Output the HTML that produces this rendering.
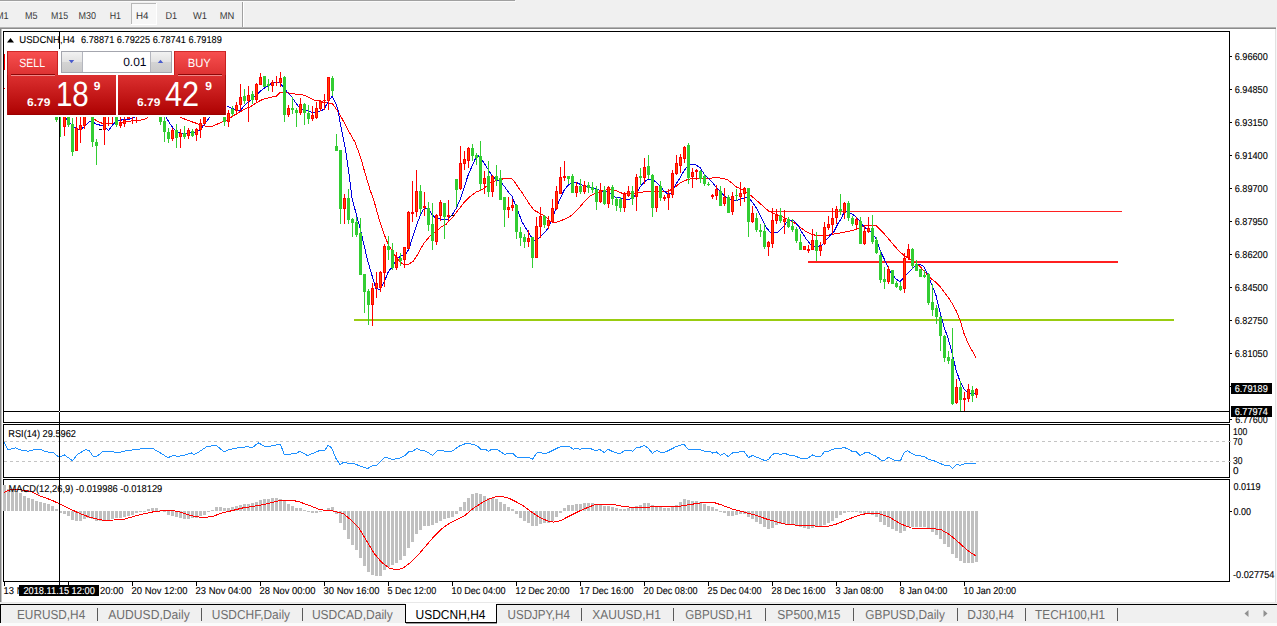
<!DOCTYPE html>
<html><head><meta charset="utf-8"><title>USDCNH,H4</title>
<style>
html,body{margin:0;padding:0;background:#f0f0f0;overflow:hidden}
svg{display:block;font-family:'Liberation Sans', sans-serif;text-rendering:geometricPrecision}
.c{shape-rendering:crispEdges}
</style></head><body>
<svg width="1277" height="626" viewBox="0 0 1277 626">
<g class="c">
<rect x="0" y="0" width="1277" height="626" fill="#f0f0f0" />
<rect x="0" y="0" width="515" height="1" fill="#a0a0a0" />
<rect x="0" y="1" width="516" height="1" fill="#fafafa" />
<rect x="0" y="27" width="1277" height="1" fill="#b4b4b4" />
<rect x="0" y="28" width="1277" height="1" fill="#8c8c8c" />
<rect x="0" y="29" width="1275" height="573" fill="#ffffff" />
<rect x="0" y="29" width="1" height="573" fill="#828282" />
<rect x="1" y="29" width="1" height="573" fill="#c4c4c4" />
<rect x="1275" y="29" width="1" height="573" fill="#e2e2e2" />
<rect x="1276" y="27" width="1" height="575" fill="#f6f6f6" />
<rect x="0" y="602" width="1277" height="1" fill="#e8e8e8" />
<rect x="0" y="603" width="1277" height="23" fill="#f0f0f0" />
<rect x="0" y="604" width="405" height="1" fill="#000" />
<rect x="497" y="604" width="780" height="1" fill="#000" />
<rect x="0" y="623" width="1277" height="3" fill="#fbfbfb" />
<rect x="0" y="604" width="1" height="19" fill="#000" />
<rect x="405" y="603" width="92" height="20" fill="#ffffff" />
<rect x="405" y="604" width="1" height="19" fill="#000" />
<rect x="496" y="604" width="1" height="19" fill="#000" />
<rect x="405" y="622" width="92" height="1" fill="#000" />
<rect x="406" y="623" width="91" height="1" fill="#999" />
<rect x="97" y="608" width="1" height="13" fill="#5a5a5a" />
<rect x="201" y="608" width="1" height="13" fill="#5a5a5a" />
<rect x="302" y="608" width="1" height="13" fill="#5a5a5a" />
<rect x="581" y="608" width="1" height="13" fill="#5a5a5a" />
<rect x="673" y="608" width="1" height="13" fill="#5a5a5a" />
<rect x="765" y="608" width="1" height="13" fill="#5a5a5a" />
<rect x="853" y="608" width="1" height="13" fill="#5a5a5a" />
<rect x="957" y="608" width="1" height="13" fill="#5a5a5a" />
<rect x="1025" y="608" width="1" height="13" fill="#5a5a5a" />
<rect x="1117" y="608" width="1" height="13" fill="#5a5a5a" />
</g>
<g class="c">
<rect x="131" y="3" width="26" height="22" fill="#f7f7f7" />
<rect x="131" y="3" width="26" height="1" fill="#b8b8b8" />
<rect x="131" y="3" width="1" height="22" fill="#b8b8b8" />
<rect x="156" y="3" width="1" height="22" fill="#ffffff" />
<rect x="131" y="24" width="26" height="1" fill="#ffffff" />
<rect x="242" y="2" width="1" height="25" fill="#a0a0a0" />
<rect x="243" y="2" width="1" height="25" fill="#ffffff" />
</g>
<text x="-4" y="19" font-size="10" fill="#383838" textLength="12.7" lengthAdjust="spacingAndGlyphs" >M1</text>
<text x="24.9" y="19" font-size="10" fill="#383838" textLength="12.5" lengthAdjust="spacingAndGlyphs" >M5</text>
<text x="50.9" y="19" font-size="10" fill="#383838" textLength="17.2" lengthAdjust="spacingAndGlyphs" >M15</text>
<text x="78.5" y="19" font-size="10" fill="#383838" textLength="17.5" lengthAdjust="spacingAndGlyphs" >M30</text>
<text x="109.7" y="19" font-size="10" fill="#383838" textLength="11.3" lengthAdjust="spacingAndGlyphs" >H1</text>
<text x="136" y="19" font-size="10" fill="#383838" textLength="12.5" lengthAdjust="spacingAndGlyphs" >H4</text>
<text x="165.5" y="19" font-size="10" fill="#383838" textLength="11.7" lengthAdjust="spacingAndGlyphs" >D1</text>
<text x="193" y="19" font-size="10" fill="#383838" textLength="14" lengthAdjust="spacingAndGlyphs" >W1</text>
<text x="219.7" y="19" font-size="10" fill="#383838" textLength="14.6" lengthAdjust="spacingAndGlyphs" >MN</text>
<text x="17" y="619" font-size="13" fill="#6e6e6e" textLength="68.2" lengthAdjust="spacingAndGlyphs" >EURUSD,H4</text>
<text x="108.3" y="619" font-size="13" fill="#6e6e6e" textLength="81.4" lengthAdjust="spacingAndGlyphs" >AUDUSD,Daily</text>
<text x="211.8" y="619" font-size="13" fill="#6e6e6e" textLength="78.2" lengthAdjust="spacingAndGlyphs" >USDCHF,Daily</text>
<text x="311.9" y="619" font-size="13" fill="#6e6e6e" textLength="80.9" lengthAdjust="spacingAndGlyphs" >USDCAD,Daily</text>
<text x="507.5" y="619" font-size="13" fill="#6e6e6e" textLength="62.4" lengthAdjust="spacingAndGlyphs" >USDJPY,H4</text>
<text x="592.3" y="619" font-size="13" fill="#6e6e6e" textLength="68.6" lengthAdjust="spacingAndGlyphs" >XAUUSD,H1</text>
<text x="685.3" y="619" font-size="13" fill="#6e6e6e" textLength="66.9" lengthAdjust="spacingAndGlyphs" >GBPUSD,H1</text>
<text x="777.3" y="619" font-size="13" fill="#6e6e6e" textLength="63.1" lengthAdjust="spacingAndGlyphs" >SP500,M15</text>
<text x="865.3" y="619" font-size="13" fill="#6e6e6e" textLength="79.6" lengthAdjust="spacingAndGlyphs" >GBPUSD,Daily</text>
<text x="967.3" y="619" font-size="13" fill="#6e6e6e" textLength="46.5" lengthAdjust="spacingAndGlyphs" >DJ30,H4</text>
<text x="1035.1" y="619" font-size="13" fill="#6e6e6e" textLength="70.0" lengthAdjust="spacingAndGlyphs" >TECH100,H1</text>
<text x="415.5" y="619" font-size="13" fill="#000" textLength="70" lengthAdjust="spacingAndGlyphs" >USDCNH,H4</text>
<path d="M1248.5 610 L1248.5 617 L1244.5 613.5 Z" fill="#909090"/>
<path d="M1263.5 610 L1263.5 617 L1267.5 613.5 Z" fill="#909090"/>
<g class="c">
<rect x="3" y="31" width="1227" height="1" fill="#000" />
<rect x="3" y="31" width="1" height="392" fill="#000" />
<rect x="1229" y="31" width="1" height="392" fill="#000" />
<rect x="3" y="422" width="1227" height="1" fill="#000" />
<rect x="3" y="424" width="1227" height="1" fill="#000" />
<rect x="3" y="424" width="1" height="54" fill="#000" />
<rect x="1229" y="424" width="1" height="54" fill="#000" />
<rect x="3" y="477" width="1227" height="1" fill="#000" />
<rect x="3" y="479" width="1227" height="1" fill="#000" />
<rect x="3" y="479" width="1" height="103" fill="#000" />
<rect x="1229" y="479" width="1" height="103" fill="#000" />
<rect x="3" y="581" width="1227" height="1" fill="#000" />
</g>
<defs><clipPath id="cpm"><rect x="4" y="32" width="1225" height="390"/></clipPath><clipPath id="cp776"><rect x="1230" y="417" width="47" height="8"/></clipPath></defs>
<g class="c">
<rect x="354" y="319" width="820" height="2" fill="#99cc11" />
<rect x="768" y="211" width="354" height="1" fill="#ff2020" />
<rect x="808" y="261" width="310" height="2" fill="#ff2020" />
</g>
<polyline points="94.0,119.0 98.0,121.5 103.0,123.7 110.0,123.5 118.6,123.0 124.0,122.0 128.7,121.3 136.0,120.5 144.4,119.6 147.7,117.3 152.0,114.0 164.0,110.0 176.0,114.0 180.0,117.0 184.0,118.8 192.0,121.8 200.0,124.6 206.0,126.4 212.0,126.4 220.0,122.9 226.0,120.6 232.0,116.6 240.0,111.8 248.0,107.4 250.0,107.0 256.0,103.1 260.0,100.7 264.0,98.9 268.0,98.1 272.0,97.0 276.0,96.4 280.0,92.5 284.0,92.0 288.0,92.9 292.0,93.6 296.0,94.2 300.0,94.2 304.0,95.3 308.0,97.0 312.0,99.2 316.0,100.7 320.0,100.9 324.0,102.6 328.0,103.1 332.0,103.1 336.0,108.7 340.0,114.9 344.0,122.2 348.0,130.0 354.8,141.8 360.5,157.0 364.3,170.5 370.0,189.7 373.8,200.0 376.2,208.8 380.0,222.0 384.0,234.0 388.3,244.7 392.5,251.9 397.7,259.2 401.8,263.3 405.0,264.8 409.0,264.0 413.2,261.3 417.4,255.0 423.6,243.6 429.8,236.3 436.0,231.2 441.3,227.0 446.0,224.5 448.0,221.8 452.0,218.1 456.0,212.9 460.0,207.7 464.0,202.5 468.0,198.3 472.0,195.2 476.0,192.1 480.0,190.7 484.0,188.6 488.0,184.8 492.0,181.7 496.0,180.7 500.0,179.7 504.0,178.6 508.0,178.2 512.0,179.0 514.0,181.2 518.0,187.0 522.0,192.6 526.0,198.8 530.0,205.0 534.0,210.2 538.0,212.3 542.0,214.4 546.0,217.0 550.0,221.0 554.0,222.7 558.0,221.7 562.0,220.2 566.0,218.5 570.0,216.5 574.0,213.3 578.0,209.2 582.0,204.4 586.0,199.8 590.0,196.1 594.0,194.0 598.0,192.6 602.0,191.1 606.0,189.9 610.0,189.0 614.0,189.9 618.0,191.5 622.0,193.2 626.0,193.4 630.0,193.1 636.0,193.5 644.0,191.9 652.0,191.5 660.0,191.5 668.0,191.0 672.0,189.4 676.0,186.3 680.0,183.2 684.0,181.1 688.0,179.4 692.0,178.6 700.0,178.6 708.0,178.6 712.0,178.0 716.0,177.3 720.0,178.0 724.0,178.6 728.0,180.0 732.0,183.2 736.0,186.8 742.0,189.5 748.0,193.0 754.0,198.2 760.0,203.4 766.0,209.0 770.0,211.7 776.0,214.4 782.0,216.5 788.0,219.4 794.0,222.7 800.0,227.3 806.0,231.5 812.0,234.6 818.0,235.6 822.0,235.6 828.0,235.2 834.0,234.0 840.0,233.0 848.0,231.5 856.0,229.5 860.0,227.4 864.0,225.7 876.0,225.7 880.0,229.5 884.0,233.6 888.0,238.2 892.0,243.0 896.0,247.7 900.0,251.9 904.0,255.4 908.0,258.1 912.0,260.6 916.0,263.1 920.0,266.4 924.0,271.0 928.0,275.6 932.0,279.3 936.0,282.4 940.0,286.6 944.0,291.8 948.0,297.0 952.0,303.2 956.0,310.5 958.5,316.5 960.0,320.0 964.0,333.4 968.0,343.0 972.0,350.6 976.0,357.4" fill="none" stroke="#ff0000" stroke-width="1" stroke-linejoin="round" shape-rendering="crispEdges" clip-path="url(#cpm)"/>
<polyline points="60.0,112.0 64.0,116.0 69.4,122.4 72.0,125.0 76.0,128.5 80.0,130.0 84.0,126.8 90.0,121.3 92.0,121.0 96.0,124.0 104.0,126.3 108.5,130.8 112.0,125.7 115.0,122.4 120.0,120.1 128.0,119.6 134.0,117.5 140.0,113.0 150.0,108.0 160.0,110.0 166.0,117.0 170.0,124.0 175.0,130.3 180.0,133.0 185.0,133.5 190.0,132.9 196.0,132.0 200.0,130.0 204.0,125.0 210.0,117.0 216.0,110.0 222.0,106.0 228.0,106.5 232.0,108.3 236.0,110.0 240.0,111.0 244.0,106.0 248.0,102.0 250.0,100.7 256.0,95.3 260.0,91.4 264.0,88.4 268.0,85.8 272.0,83.0 276.0,82.1 280.0,83.0 284.0,88.0 288.0,93.3 292.0,97.3 296.0,103.1 300.0,108.5 304.0,110.1 308.0,111.0 312.0,112.3 316.0,112.3 320.0,111.2 324.0,109.3 328.0,102.0 332.0,96.4 336.0,104.0 338.0,110.0 340.4,124.5 345.2,147.5 349.0,174.3 352.0,198.0 354.8,208.8 360.3,229.0 367.5,260.2 375.8,288.3 379.6,289.7 384.2,282.0 388.3,271.7 392.5,266.5 396.6,259.2 400.8,256.0 405.0,255.7 409.0,248.8 413.2,235.3 417.4,222.8 421.5,212.5 424.7,207.9 427.8,208.3 432.0,214.5 436.0,218.3 441.3,219.1 445.4,219.7 448.0,219.1 452.0,215.0 456.0,208.7 460.0,199.8 464.0,188.0 468.0,175.5 472.0,166.2 476.0,157.4 478.0,155.8 480.0,156.8 484.0,163.0 488.0,169.3 492.0,175.5 496.0,179.7 500.0,181.1 504.0,185.9 508.0,191.5 512.0,196.3 516.0,206.7 520.0,216.4 522.0,221.7 526.0,228.5 530.0,235.2 534.0,240.3 536.0,240.3 540.0,237.2 544.0,233.1 548.0,228.5 552.0,219.6 556.0,208.2 560.0,198.8 564.0,190.5 568.0,185.3 572.0,182.8 576.0,182.2 580.0,184.3 584.0,185.7 588.0,187.0 592.0,187.8 596.0,189.0 600.0,190.5 604.0,191.5 608.0,192.0 612.0,194.7 616.0,197.8 620.0,197.5 624.0,199.0 628.0,199.2 632.0,198.7 636.0,194.6 640.0,187.3 644.0,182.1 648.0,179.4 652.0,179.4 656.0,182.1 660.0,186.3 664.0,191.0 668.0,194.0 672.0,192.5 676.0,184.2 680.0,178.0 684.0,170.7 688.0,165.5 692.0,164.0 696.0,164.9 700.0,167.6 704.0,173.8 708.0,178.0 712.0,182.1 716.0,186.9 720.0,191.0 724.0,195.6 728.0,198.1 732.0,200.2 736.0,200.8 740.0,199.4 742.0,198.6 746.0,197.2 750.0,199.3 754.0,204.5 758.0,210.7 762.0,219.0 766.0,227.3 770.0,231.9 774.0,233.1 778.0,231.9 782.0,228.3 786.0,223.2 790.0,220.0 794.0,220.7 798.0,225.6 802.0,232.5 806.0,238.7 810.0,243.9 814.0,246.4 818.0,246.4 822.0,245.0 826.0,240.2 830.0,235.6 834.0,231.5 838.0,223.6 842.0,217.3 844.0,211.8 848.0,211.8 852.0,213.9 856.0,217.0 860.0,221.2 864.0,227.0 868.0,229.9 872.0,232.6 876.0,238.8 880.0,250.2 884.0,258.5 888.0,267.3 892.0,274.1 896.0,278.9 900.0,281.8 904.0,277.2 908.0,273.1 912.0,269.3 916.0,265.2 920.0,264.4 924.0,266.8 928.0,275.2 932.0,285.1 936.0,295.5 940.0,312.0 944.0,326.7 948.0,338.2 952.0,352.6 956.0,369.8 960.0,381.3 964.0,389.0 966.0,391.0 968.0,392.5 972.0,393.8 976.0,393.8" fill="none" stroke="#0000e0" stroke-width="1" stroke-linejoin="round" shape-rendering="crispEdges" clip-path="url(#cpm)"/>
<g class="c" clip-path="url(#cpm)">
<rect x="56" y="100" width="1" height="22" fill="#32cd32" />
<rect x="55" y="100" width="3" height="20" fill="#32cd32" />
<rect x="60" y="100" width="1" height="37" fill="#32cd32" />
<rect x="59" y="100" width="3" height="10" fill="#32cd32" />
<rect x="64" y="100" width="1" height="36" fill="#ff0000" />
<rect x="63" y="100" width="3" height="27" fill="#ff0000" />
<rect x="64" y="101" width="1" height="25" fill="#ff4500" />
<rect x="68" y="100" width="1" height="27" fill="#32cd32" />
<rect x="67" y="100" width="3" height="25" fill="#32cd32" />
<rect x="72" y="118" width="1" height="38" fill="#32cd32" />
<rect x="71" y="124" width="3" height="28" fill="#32cd32" />
<rect x="76" y="100" width="1" height="51" fill="#ff0000" />
<rect x="75" y="128" width="3" height="23" fill="#ff0000" />
<rect x="76" y="129" width="1" height="21" fill="#ff4500" />
<rect x="80" y="100" width="1" height="43" fill="#ff0000" />
<rect x="79" y="125" width="3" height="5" fill="#ff0000" />
<rect x="80" y="126" width="1" height="3" fill="#ff4500" />
<rect x="84" y="100" width="1" height="29" fill="#ff0000" />
<rect x="83" y="100" width="3" height="26" fill="#ff0000" />
<rect x="84" y="101" width="1" height="24" fill="#ff4500" />
<rect x="88" y="100" width="1" height="12" fill="#ff0000" />
<rect x="87" y="100" width="3" height="10" fill="#ff0000" />
<rect x="88" y="101" width="1" height="8" fill="#ff4500" />
<rect x="92" y="100" width="1" height="47" fill="#32cd32" />
<rect x="91" y="100" width="3" height="42" fill="#32cd32" />
<rect x="96" y="139" width="1" height="26" fill="#32cd32" />
<rect x="95" y="142" width="3" height="4" fill="#32cd32" />
<rect x="100" y="129" width="1" height="1" fill="#000" />
<rect x="99" y="129" width="3" height="1" fill="#000" />
<rect x="104" y="100" width="1" height="45" fill="#ff0000" />
<rect x="103" y="100" width="3" height="30" fill="#ff0000" />
<rect x="104" y="101" width="1" height="28" fill="#ff4500" />
<rect x="108" y="100" width="1" height="26" fill="#ff0000" />
<rect x="107" y="100" width="3" height="5" fill="#ff0000" />
<rect x="108" y="101" width="1" height="3" fill="#ff4500" />
<rect x="112" y="100" width="1" height="24" fill="#ff0000" />
<rect x="111" y="100" width="3" height="5" fill="#ff0000" />
<rect x="112" y="101" width="1" height="3" fill="#ff4500" />
<rect x="116" y="100" width="1" height="27" fill="#32cd32" />
<rect x="115" y="100" width="3" height="25" fill="#32cd32" />
<rect x="120" y="100" width="1" height="28" fill="#ff0000" />
<rect x="119" y="123" width="3" height="3" fill="#ff0000" />
<rect x="120" y="124" width="1" height="1" fill="#ff4500" />
<rect x="124" y="100" width="1" height="27" fill="#ff0000" />
<rect x="123" y="120" width="3" height="4" fill="#ff0000" />
<rect x="124" y="121" width="1" height="2" fill="#ff4500" />
<rect x="128" y="100" width="1" height="19" fill="#ff0000" />
<rect x="127" y="110" width="3" height="9" fill="#ff0000" />
<rect x="128" y="111" width="1" height="7" fill="#ff4500" />
<rect x="132" y="100" width="1" height="24" fill="#ff0000" />
<rect x="131" y="120" width="3" height="1" fill="#ff0000" />
<rect x="136" y="100" width="1" height="23" fill="#ff0000" />
<rect x="135" y="120" width="3" height="1" fill="#ff0000" />
<rect x="160" y="100" width="1" height="25" fill="#32cd32" />
<rect x="159" y="100" width="3" height="22" fill="#32cd32" />
<rect x="164" y="100" width="1" height="42" fill="#32cd32" />
<rect x="163" y="121" width="3" height="11" fill="#32cd32" />
<rect x="168" y="128" width="1" height="15" fill="#32cd32" />
<rect x="167" y="132" width="3" height="7" fill="#32cd32" />
<rect x="172" y="128" width="1" height="13" fill="#ff0000" />
<rect x="171" y="130" width="3" height="9" fill="#ff0000" />
<rect x="172" y="131" width="1" height="7" fill="#ff4500" />
<rect x="176" y="124" width="1" height="24" fill="#32cd32" />
<rect x="175" y="130" width="3" height="8" fill="#32cd32" />
<rect x="180" y="129" width="1" height="19" fill="#ff0000" />
<rect x="179" y="133" width="3" height="4" fill="#ff0000" />
<rect x="180" y="134" width="1" height="2" fill="#ff4500" />
<rect x="184" y="126" width="1" height="13" fill="#32cd32" />
<rect x="183" y="133" width="3" height="4" fill="#32cd32" />
<rect x="188" y="128" width="1" height="11" fill="#ff0000" />
<rect x="187" y="130" width="3" height="6" fill="#ff0000" />
<rect x="188" y="131" width="1" height="4" fill="#ff4500" />
<rect x="192" y="129" width="1" height="8" fill="#32cd32" />
<rect x="191" y="131" width="3" height="5" fill="#32cd32" />
<rect x="196" y="128" width="1" height="13" fill="#ff0000" />
<rect x="195" y="129" width="3" height="6" fill="#ff0000" />
<rect x="196" y="130" width="1" height="4" fill="#ff4500" />
<rect x="200" y="119" width="1" height="19" fill="#ff0000" />
<rect x="199" y="123" width="3" height="7" fill="#ff0000" />
<rect x="200" y="124" width="1" height="5" fill="#ff4500" />
<rect x="204" y="100" width="1" height="24" fill="#ff0000" />
<rect x="203" y="100" width="3" height="24" fill="#ff0000" />
<rect x="204" y="101" width="1" height="22" fill="#ff4500" />
<rect x="224" y="100" width="1" height="26" fill="#32cd32" />
<rect x="223" y="100" width="3" height="22" fill="#32cd32" />
<rect x="228" y="110" width="1" height="17" fill="#ff0000" />
<rect x="227" y="113" width="3" height="9" fill="#ff0000" />
<rect x="228" y="114" width="1" height="7" fill="#ff4500" />
<rect x="232" y="106" width="1" height="10" fill="#32cd32" />
<rect x="231" y="109" width="3" height="5" fill="#32cd32" />
<rect x="236" y="102" width="1" height="13" fill="#ff0000" />
<rect x="235" y="105" width="3" height="6" fill="#ff0000" />
<rect x="236" y="106" width="1" height="4" fill="#ff4500" />
<rect x="240" y="84" width="1" height="26" fill="#ff0000" />
<rect x="239" y="97" width="3" height="8" fill="#ff0000" />
<rect x="240" y="98" width="1" height="6" fill="#ff4500" />
<rect x="244" y="89" width="1" height="15" fill="#32cd32" />
<rect x="243" y="96" width="3" height="5" fill="#32cd32" />
<rect x="248" y="86" width="1" height="36" fill="#ff0000" />
<rect x="247" y="95" width="3" height="6" fill="#ff0000" />
<rect x="248" y="96" width="1" height="4" fill="#ff4500" />
<rect x="252" y="91" width="1" height="13" fill="#32cd32" />
<rect x="251" y="94" width="3" height="6" fill="#32cd32" />
<rect x="256" y="83" width="1" height="19" fill="#ff0000" />
<rect x="255" y="84" width="3" height="16" fill="#ff0000" />
<rect x="256" y="85" width="1" height="14" fill="#ff4500" />
<rect x="260" y="73" width="1" height="12" fill="#ff0000" />
<rect x="259" y="77" width="3" height="8" fill="#ff0000" />
<rect x="260" y="78" width="1" height="6" fill="#ff4500" />
<rect x="264" y="76" width="1" height="11" fill="#32cd32" />
<rect x="263" y="76" width="3" height="11" fill="#32cd32" />
<rect x="268" y="79" width="1" height="12" fill="#32cd32" />
<rect x="267" y="84" width="3" height="2" fill="#32cd32" />
<rect x="272" y="80" width="1" height="12" fill="#ff0000" />
<rect x="271" y="82" width="3" height="4" fill="#ff0000" />
<rect x="272" y="83" width="1" height="2" fill="#ff4500" />
<rect x="276" y="76" width="1" height="10" fill="#ff0000" />
<rect x="275" y="82" width="3" height="1" fill="#ff0000" />
<rect x="280" y="72" width="1" height="15" fill="#ff0000" />
<rect x="279" y="78" width="3" height="5" fill="#ff0000" />
<rect x="280" y="79" width="1" height="3" fill="#ff4500" />
<rect x="284" y="76" width="1" height="46" fill="#32cd32" />
<rect x="283" y="77" width="3" height="38" fill="#32cd32" />
<rect x="288" y="105" width="1" height="12" fill="#ff0000" />
<rect x="287" y="108" width="3" height="7" fill="#ff0000" />
<rect x="288" y="109" width="1" height="5" fill="#ff4500" />
<rect x="292" y="97" width="1" height="17" fill="#32cd32" />
<rect x="291" y="108" width="3" height="2" fill="#32cd32" />
<rect x="296" y="108" width="1" height="19" fill="#32cd32" />
<rect x="295" y="110" width="3" height="3" fill="#32cd32" />
<rect x="300" y="98" width="1" height="17" fill="#ff0000" />
<rect x="299" y="104" width="3" height="9" fill="#ff0000" />
<rect x="300" y="105" width="1" height="7" fill="#ff4500" />
<rect x="304" y="103" width="1" height="22" fill="#32cd32" />
<rect x="303" y="104" width="3" height="9" fill="#32cd32" />
<rect x="308" y="105" width="1" height="19" fill="#32cd32" />
<rect x="307" y="113" width="3" height="6" fill="#32cd32" />
<rect x="312" y="106" width="1" height="15" fill="#ff0000" />
<rect x="311" y="115" width="3" height="4" fill="#ff0000" />
<rect x="312" y="116" width="1" height="2" fill="#ff4500" />
<rect x="316" y="102" width="1" height="17" fill="#ff0000" />
<rect x="315" y="108" width="3" height="10" fill="#ff0000" />
<rect x="316" y="109" width="1" height="8" fill="#ff4500" />
<rect x="320" y="100" width="1" height="11" fill="#ff0000" />
<rect x="319" y="101" width="3" height="8" fill="#ff0000" />
<rect x="320" y="102" width="1" height="6" fill="#ff4500" />
<rect x="324" y="94" width="1" height="16" fill="#ff0000" />
<rect x="323" y="100" width="3" height="1" fill="#ff0000" />
<rect x="328" y="77" width="1" height="33" fill="#ff0000" />
<rect x="327" y="77" width="3" height="24" fill="#ff0000" />
<rect x="328" y="78" width="1" height="22" fill="#ff4500" />
<rect x="332" y="76" width="1" height="20" fill="#32cd32" />
<rect x="331" y="78" width="3" height="13" fill="#32cd32" />
<rect x="336" y="134" width="1" height="17" fill="#32cd32" />
<rect x="335" y="146" width="3" height="5" fill="#32cd32" />
<rect x="340" y="150" width="1" height="74" fill="#32cd32" />
<rect x="339" y="150" width="3" height="59" fill="#32cd32" />
<rect x="344" y="194" width="1" height="30" fill="#ff0000" />
<rect x="343" y="198" width="3" height="11" fill="#ff0000" />
<rect x="344" y="199" width="1" height="9" fill="#ff4500" />
<rect x="348" y="189" width="1" height="35" fill="#32cd32" />
<rect x="347" y="198" width="3" height="22" fill="#32cd32" />
<rect x="352" y="218" width="1" height="19" fill="#32cd32" />
<rect x="351" y="219" width="3" height="4" fill="#32cd32" />
<rect x="356" y="217" width="1" height="20" fill="#32cd32" />
<rect x="355" y="222" width="3" height="13" fill="#32cd32" />
<rect x="360" y="218" width="1" height="57" fill="#32cd32" />
<rect x="359" y="233" width="3" height="42" fill="#32cd32" />
<rect x="364" y="274" width="1" height="39" fill="#32cd32" />
<rect x="363" y="274" width="3" height="18" fill="#32cd32" />
<rect x="368" y="289" width="1" height="36" fill="#32cd32" />
<rect x="367" y="291" width="3" height="14" fill="#32cd32" />
<rect x="372" y="283" width="1" height="43" fill="#ff0000" />
<rect x="371" y="288" width="3" height="17" fill="#ff0000" />
<rect x="372" y="289" width="1" height="15" fill="#ff4500" />
<rect x="376" y="272" width="1" height="26" fill="#ff0000" />
<rect x="375" y="283" width="3" height="5" fill="#ff0000" />
<rect x="376" y="284" width="1" height="3" fill="#ff4500" />
<rect x="380" y="271" width="1" height="21" fill="#ff0000" />
<rect x="379" y="272" width="3" height="16" fill="#ff0000" />
<rect x="380" y="273" width="1" height="14" fill="#ff4500" />
<rect x="384" y="244" width="1" height="43" fill="#ff0000" />
<rect x="383" y="246" width="3" height="27" fill="#ff0000" />
<rect x="384" y="247" width="1" height="25" fill="#ff4500" />
<rect x="388" y="236" width="1" height="24" fill="#32cd32" />
<rect x="387" y="246" width="3" height="4" fill="#32cd32" />
<rect x="392" y="243" width="1" height="27" fill="#32cd32" />
<rect x="391" y="250" width="3" height="18" fill="#32cd32" />
<rect x="396" y="252" width="1" height="18" fill="#ff0000" />
<rect x="395" y="257" width="3" height="11" fill="#ff0000" />
<rect x="396" y="258" width="1" height="9" fill="#ff4500" />
<rect x="400" y="253" width="1" height="13" fill="#32cd32" />
<rect x="399" y="258" width="3" height="3" fill="#32cd32" />
<rect x="404" y="247" width="1" height="21" fill="#ff0000" />
<rect x="403" y="247" width="3" height="13" fill="#ff0000" />
<rect x="404" y="248" width="1" height="11" fill="#ff4500" />
<rect x="408" y="211" width="1" height="38" fill="#ff0000" />
<rect x="407" y="212" width="3" height="37" fill="#ff0000" />
<rect x="408" y="213" width="1" height="35" fill="#ff4500" />
<rect x="412" y="181" width="1" height="41" fill="#ff0000" />
<rect x="411" y="212" width="3" height="2" fill="#ff0000" />
<rect x="416" y="170" width="1" height="47" fill="#ff0000" />
<rect x="415" y="191" width="3" height="21" fill="#ff0000" />
<rect x="416" y="192" width="1" height="19" fill="#ff4500" />
<rect x="420" y="185" width="1" height="29" fill="#32cd32" />
<rect x="419" y="191" width="3" height="18" fill="#32cd32" />
<rect x="424" y="192" width="1" height="24" fill="#ff0000" />
<rect x="423" y="206" width="3" height="2" fill="#ff0000" />
<rect x="428" y="202" width="1" height="29" fill="#32cd32" />
<rect x="427" y="208" width="3" height="17" fill="#32cd32" />
<rect x="432" y="203" width="1" height="47" fill="#32cd32" />
<rect x="431" y="224" width="3" height="17" fill="#32cd32" />
<rect x="436" y="214" width="1" height="31" fill="#ff0000" />
<rect x="435" y="215" width="3" height="27" fill="#ff0000" />
<rect x="436" y="216" width="1" height="25" fill="#ff4500" />
<rect x="440" y="200" width="1" height="21" fill="#ff0000" />
<rect x="439" y="202" width="3" height="14" fill="#ff0000" />
<rect x="440" y="203" width="1" height="12" fill="#ff4500" />
<rect x="444" y="203" width="1" height="36" fill="#32cd32" />
<rect x="443" y="203" width="3" height="14" fill="#32cd32" />
<rect x="448" y="200" width="1" height="21" fill="#ff0000" />
<rect x="447" y="215" width="3" height="2" fill="#ff0000" />
<rect x="452" y="215" width="1" height="1" fill="#000" />
<rect x="451" y="215" width="3" height="1" fill="#000" />
<rect x="456" y="179" width="1" height="28" fill="#32cd32" />
<rect x="455" y="179" width="3" height="11" fill="#32cd32" />
<rect x="460" y="146" width="1" height="44" fill="#ff0000" />
<rect x="459" y="163" width="3" height="26" fill="#ff0000" />
<rect x="460" y="164" width="1" height="24" fill="#ff4500" />
<rect x="464" y="151" width="1" height="19" fill="#ff0000" />
<rect x="463" y="159" width="3" height="5" fill="#ff0000" />
<rect x="464" y="160" width="1" height="3" fill="#ff4500" />
<rect x="468" y="147" width="1" height="21" fill="#ff0000" />
<rect x="467" y="148" width="3" height="13" fill="#ff0000" />
<rect x="468" y="149" width="1" height="11" fill="#ff4500" />
<rect x="472" y="144" width="1" height="17" fill="#32cd32" />
<rect x="471" y="148" width="3" height="8" fill="#32cd32" />
<rect x="476" y="153" width="1" height="12" fill="#32cd32" />
<rect x="475" y="155" width="3" height="3" fill="#32cd32" />
<rect x="480" y="141" width="1" height="49" fill="#32cd32" />
<rect x="479" y="156" width="3" height="28" fill="#32cd32" />
<rect x="484" y="171" width="1" height="23" fill="#ff0000" />
<rect x="483" y="178" width="3" height="6" fill="#ff0000" />
<rect x="484" y="179" width="1" height="4" fill="#ff4500" />
<rect x="488" y="161" width="1" height="36" fill="#32cd32" />
<rect x="487" y="176" width="3" height="16" fill="#32cd32" />
<rect x="492" y="175" width="1" height="22" fill="#ff0000" />
<rect x="491" y="176" width="3" height="16" fill="#ff0000" />
<rect x="492" y="177" width="1" height="14" fill="#ff4500" />
<rect x="496" y="165" width="1" height="21" fill="#32cd32" />
<rect x="495" y="176" width="3" height="4" fill="#32cd32" />
<rect x="500" y="170" width="1" height="30" fill="#32cd32" />
<rect x="499" y="178" width="3" height="22" fill="#32cd32" />
<rect x="504" y="197" width="1" height="30" fill="#32cd32" />
<rect x="503" y="197" width="3" height="13" fill="#32cd32" />
<rect x="508" y="197" width="1" height="21" fill="#ff0000" />
<rect x="507" y="207" width="3" height="3" fill="#ff0000" />
<rect x="508" y="208" width="1" height="1" fill="#ff4500" />
<rect x="512" y="199" width="1" height="12" fill="#ff0000" />
<rect x="511" y="205" width="3" height="3" fill="#ff0000" />
<rect x="512" y="206" width="1" height="1" fill="#ff4500" />
<rect x="516" y="204" width="1" height="35" fill="#32cd32" />
<rect x="515" y="205" width="3" height="27" fill="#32cd32" />
<rect x="520" y="227" width="1" height="19" fill="#32cd32" />
<rect x="519" y="232" width="3" height="6" fill="#32cd32" />
<rect x="524" y="234" width="1" height="14" fill="#32cd32" />
<rect x="523" y="237" width="3" height="5" fill="#32cd32" />
<rect x="528" y="230" width="1" height="17" fill="#ff0000" />
<rect x="527" y="238" width="3" height="4" fill="#ff0000" />
<rect x="528" y="239" width="1" height="2" fill="#ff4500" />
<rect x="532" y="237" width="1" height="31" fill="#32cd32" />
<rect x="531" y="237" width="3" height="21" fill="#32cd32" />
<rect x="536" y="217" width="1" height="41" fill="#ff0000" />
<rect x="535" y="226" width="3" height="32" fill="#ff0000" />
<rect x="536" y="227" width="1" height="30" fill="#ff4500" />
<rect x="540" y="207" width="1" height="31" fill="#ff0000" />
<rect x="539" y="216" width="3" height="11" fill="#ff0000" />
<rect x="540" y="217" width="1" height="9" fill="#ff4500" />
<rect x="544" y="215" width="1" height="13" fill="#32cd32" />
<rect x="543" y="216" width="3" height="9" fill="#32cd32" />
<rect x="548" y="216" width="1" height="13" fill="#ff0000" />
<rect x="547" y="220" width="3" height="6" fill="#ff0000" />
<rect x="548" y="221" width="1" height="4" fill="#ff4500" />
<rect x="552" y="199" width="1" height="24" fill="#ff0000" />
<rect x="551" y="208" width="3" height="14" fill="#ff0000" />
<rect x="552" y="209" width="1" height="12" fill="#ff4500" />
<rect x="556" y="186" width="1" height="24" fill="#ff0000" />
<rect x="555" y="191" width="3" height="18" fill="#ff0000" />
<rect x="556" y="192" width="1" height="16" fill="#ff4500" />
<rect x="560" y="167" width="1" height="27" fill="#ff0000" />
<rect x="559" y="177" width="3" height="17" fill="#ff0000" />
<rect x="560" y="178" width="1" height="15" fill="#ff4500" />
<rect x="564" y="161" width="1" height="20" fill="#ff0000" />
<rect x="563" y="176" width="3" height="2" fill="#ff0000" />
<rect x="568" y="176" width="1" height="8" fill="#32cd32" />
<rect x="567" y="176" width="3" height="3" fill="#32cd32" />
<rect x="572" y="174" width="1" height="19" fill="#32cd32" />
<rect x="571" y="176" width="3" height="17" fill="#32cd32" />
<rect x="576" y="182" width="1" height="15" fill="#ff0000" />
<rect x="575" y="186" width="3" height="7" fill="#ff0000" />
<rect x="576" y="187" width="1" height="5" fill="#ff4500" />
<rect x="580" y="179" width="1" height="15" fill="#32cd32" />
<rect x="579" y="186" width="3" height="6" fill="#32cd32" />
<rect x="584" y="181" width="1" height="13" fill="#ff0000" />
<rect x="583" y="185" width="3" height="7" fill="#ff0000" />
<rect x="584" y="186" width="1" height="5" fill="#ff4500" />
<rect x="588" y="182" width="1" height="11" fill="#32cd32" />
<rect x="587" y="185" width="3" height="3" fill="#32cd32" />
<rect x="592" y="182" width="1" height="11" fill="#32cd32" />
<rect x="591" y="187" width="3" height="3" fill="#32cd32" />
<rect x="596" y="186" width="1" height="24" fill="#32cd32" />
<rect x="595" y="189" width="3" height="13" fill="#32cd32" />
<rect x="600" y="183" width="1" height="20" fill="#ff0000" />
<rect x="599" y="190" width="3" height="12" fill="#ff0000" />
<rect x="600" y="191" width="1" height="10" fill="#ff4500" />
<rect x="604" y="186" width="1" height="19" fill="#32cd32" />
<rect x="603" y="190" width="3" height="14" fill="#32cd32" />
<rect x="608" y="186" width="1" height="22" fill="#ff0000" />
<rect x="607" y="187" width="3" height="17" fill="#ff0000" />
<rect x="608" y="188" width="1" height="15" fill="#ff4500" />
<rect x="612" y="185" width="1" height="20" fill="#32cd32" />
<rect x="611" y="187" width="3" height="12" fill="#32cd32" />
<rect x="616" y="197" width="1" height="14" fill="#32cd32" />
<rect x="615" y="199" width="3" height="7" fill="#32cd32" />
<rect x="620" y="197" width="1" height="15" fill="#32cd32" />
<rect x="619" y="199" width="3" height="9" fill="#32cd32" />
<rect x="624" y="192" width="1" height="20" fill="#ff0000" />
<rect x="623" y="194" width="3" height="14" fill="#ff0000" />
<rect x="624" y="195" width="1" height="12" fill="#ff4500" />
<rect x="628" y="186" width="1" height="11" fill="#ff0000" />
<rect x="627" y="191" width="3" height="5" fill="#ff0000" />
<rect x="628" y="192" width="1" height="3" fill="#ff4500" />
<rect x="632" y="186" width="1" height="19" fill="#32cd32" />
<rect x="631" y="191" width="3" height="8" fill="#32cd32" />
<rect x="636" y="174" width="1" height="37" fill="#ff0000" />
<rect x="635" y="177" width="3" height="20" fill="#ff0000" />
<rect x="636" y="178" width="1" height="18" fill="#ff4500" />
<rect x="640" y="168" width="1" height="17" fill="#32cd32" />
<rect x="639" y="176" width="3" height="2" fill="#32cd32" />
<rect x="644" y="158" width="1" height="26" fill="#ff0000" />
<rect x="643" y="167" width="3" height="11" fill="#ff0000" />
<rect x="644" y="168" width="1" height="9" fill="#ff4500" />
<rect x="648" y="155" width="1" height="24" fill="#32cd32" />
<rect x="647" y="166" width="3" height="9" fill="#32cd32" />
<rect x="652" y="174" width="1" height="43" fill="#32cd32" />
<rect x="651" y="175" width="3" height="33" fill="#32cd32" />
<rect x="656" y="186" width="1" height="26" fill="#ff0000" />
<rect x="655" y="186" width="3" height="22" fill="#ff0000" />
<rect x="656" y="187" width="1" height="20" fill="#ff4500" />
<rect x="660" y="181" width="1" height="20" fill="#32cd32" />
<rect x="659" y="186" width="3" height="12" fill="#32cd32" />
<rect x="664" y="195" width="1" height="6" fill="#ff0000" />
<rect x="663" y="197" width="3" height="2" fill="#ff0000" />
<rect x="668" y="189" width="1" height="21" fill="#ff0000" />
<rect x="667" y="194" width="3" height="4" fill="#ff0000" />
<rect x="668" y="195" width="1" height="2" fill="#ff4500" />
<rect x="672" y="170" width="1" height="28" fill="#ff0000" />
<rect x="671" y="173" width="3" height="22" fill="#ff0000" />
<rect x="672" y="174" width="1" height="20" fill="#ff4500" />
<rect x="676" y="155" width="1" height="20" fill="#ff0000" />
<rect x="675" y="163" width="3" height="11" fill="#ff0000" />
<rect x="676" y="164" width="1" height="9" fill="#ff4500" />
<rect x="680" y="154" width="1" height="19" fill="#ff0000" />
<rect x="679" y="157" width="3" height="9" fill="#ff0000" />
<rect x="680" y="158" width="1" height="7" fill="#ff4500" />
<rect x="684" y="146" width="1" height="17" fill="#ff0000" />
<rect x="683" y="147" width="3" height="12" fill="#ff0000" />
<rect x="684" y="148" width="1" height="10" fill="#ff4500" />
<rect x="688" y="143" width="1" height="41" fill="#32cd32" />
<rect x="687" y="145" width="3" height="33" fill="#32cd32" />
<rect x="692" y="168" width="1" height="20" fill="#ff0000" />
<rect x="691" y="172" width="3" height="5" fill="#ff0000" />
<rect x="692" y="173" width="1" height="3" fill="#ff4500" />
<rect x="696" y="169" width="1" height="11" fill="#ff0000" />
<rect x="695" y="170" width="3" height="2" fill="#ff0000" />
<rect x="700" y="170" width="1" height="13" fill="#32cd32" />
<rect x="699" y="171" width="3" height="8" fill="#32cd32" />
<rect x="704" y="174" width="1" height="12" fill="#32cd32" />
<rect x="703" y="176" width="3" height="8" fill="#32cd32" />
<rect x="708" y="182" width="1" height="4" fill="#32cd32" />
<rect x="707" y="184" width="3" height="1" fill="#32cd32" />
<rect x="712" y="194" width="1" height="5" fill="#ff0000" />
<rect x="711" y="195" width="3" height="2" fill="#ff0000" />
<rect x="716" y="185" width="1" height="15" fill="#ff0000" />
<rect x="715" y="189" width="3" height="7" fill="#ff0000" />
<rect x="716" y="190" width="1" height="5" fill="#ff4500" />
<rect x="720" y="186" width="1" height="20" fill="#32cd32" />
<rect x="719" y="191" width="3" height="15" fill="#32cd32" />
<rect x="724" y="188" width="1" height="18" fill="#ff0000" />
<rect x="723" y="197" width="3" height="7" fill="#ff0000" />
<rect x="724" y="198" width="1" height="5" fill="#ff4500" />
<rect x="728" y="195" width="1" height="18" fill="#32cd32" />
<rect x="727" y="197" width="3" height="16" fill="#32cd32" />
<rect x="732" y="192" width="1" height="23" fill="#ff0000" />
<rect x="731" y="196" width="3" height="16" fill="#ff0000" />
<rect x="732" y="197" width="1" height="14" fill="#ff4500" />
<rect x="736" y="189" width="1" height="12" fill="#32cd32" />
<rect x="735" y="195" width="3" height="1" fill="#32cd32" />
<rect x="740" y="182" width="1" height="24" fill="#ff0000" />
<rect x="739" y="193" width="3" height="4" fill="#ff0000" />
<rect x="740" y="194" width="1" height="2" fill="#ff4500" />
<rect x="744" y="187" width="1" height="15" fill="#ff0000" />
<rect x="743" y="188" width="3" height="6" fill="#ff0000" />
<rect x="744" y="189" width="1" height="4" fill="#ff4500" />
<rect x="748" y="188" width="1" height="49" fill="#32cd32" />
<rect x="747" y="188" width="3" height="34" fill="#32cd32" />
<rect x="752" y="206" width="1" height="17" fill="#ff0000" />
<rect x="751" y="213" width="3" height="9" fill="#ff0000" />
<rect x="752" y="214" width="1" height="7" fill="#ff4500" />
<rect x="756" y="213" width="1" height="19" fill="#32cd32" />
<rect x="755" y="218" width="3" height="12" fill="#32cd32" />
<rect x="760" y="224" width="1" height="13" fill="#32cd32" />
<rect x="759" y="230" width="3" height="2" fill="#32cd32" />
<rect x="764" y="224" width="1" height="25" fill="#32cd32" />
<rect x="763" y="231" width="3" height="16" fill="#32cd32" />
<rect x="768" y="241" width="1" height="15" fill="#ff0000" />
<rect x="767" y="242" width="3" height="5" fill="#ff0000" />
<rect x="768" y="243" width="1" height="3" fill="#ff4500" />
<rect x="772" y="208" width="1" height="40" fill="#ff0000" />
<rect x="771" y="220" width="3" height="24" fill="#ff0000" />
<rect x="772" y="221" width="1" height="22" fill="#ff4500" />
<rect x="776" y="209" width="1" height="15" fill="#ff0000" />
<rect x="775" y="215" width="3" height="6" fill="#ff0000" />
<rect x="776" y="216" width="1" height="4" fill="#ff4500" />
<rect x="780" y="208" width="1" height="15" fill="#32cd32" />
<rect x="779" y="215" width="3" height="6" fill="#32cd32" />
<rect x="784" y="210" width="1" height="24" fill="#ff0000" />
<rect x="783" y="219" width="3" height="3" fill="#ff0000" />
<rect x="784" y="220" width="1" height="1" fill="#ff4500" />
<rect x="788" y="217" width="1" height="11" fill="#32cd32" />
<rect x="787" y="219" width="3" height="8" fill="#32cd32" />
<rect x="792" y="219" width="1" height="13" fill="#32cd32" />
<rect x="791" y="226" width="3" height="4" fill="#32cd32" />
<rect x="796" y="227" width="1" height="16" fill="#32cd32" />
<rect x="795" y="229" width="3" height="12" fill="#32cd32" />
<rect x="800" y="234" width="1" height="16" fill="#32cd32" />
<rect x="799" y="242" width="3" height="8" fill="#32cd32" />
<rect x="804" y="246" width="1" height="4" fill="#ff0000" />
<rect x="803" y="246" width="3" height="4" fill="#ff0000" />
<rect x="804" y="247" width="1" height="2" fill="#ff4500" />
<rect x="808" y="245" width="1" height="8" fill="#ff0000" />
<rect x="807" y="249" width="3" height="2" fill="#ff0000" />
<rect x="812" y="229" width="1" height="21" fill="#ff0000" />
<rect x="811" y="240" width="3" height="10" fill="#ff0000" />
<rect x="812" y="241" width="1" height="8" fill="#ff4500" />
<rect x="816" y="232" width="1" height="29" fill="#32cd32" />
<rect x="815" y="240" width="3" height="11" fill="#32cd32" />
<rect x="820" y="242" width="1" height="14" fill="#ff0000" />
<rect x="819" y="246" width="3" height="5" fill="#ff0000" />
<rect x="820" y="247" width="1" height="3" fill="#ff4500" />
<rect x="824" y="222" width="1" height="23" fill="#ff0000" />
<rect x="823" y="227" width="3" height="17" fill="#ff0000" />
<rect x="824" y="228" width="1" height="15" fill="#ff4500" />
<rect x="828" y="216" width="1" height="14" fill="#ff0000" />
<rect x="827" y="224" width="3" height="4" fill="#ff0000" />
<rect x="828" y="225" width="1" height="2" fill="#ff4500" />
<rect x="832" y="208" width="1" height="27" fill="#ff0000" />
<rect x="831" y="218" width="3" height="7" fill="#ff0000" />
<rect x="832" y="219" width="1" height="5" fill="#ff4500" />
<rect x="836" y="206" width="1" height="18" fill="#ff0000" />
<rect x="835" y="209" width="3" height="9" fill="#ff0000" />
<rect x="836" y="210" width="1" height="7" fill="#ff4500" />
<rect x="840" y="194" width="1" height="21" fill="#32cd32" />
<rect x="839" y="209" width="3" height="2" fill="#32cd32" />
<rect x="844" y="202" width="1" height="17" fill="#ff0000" />
<rect x="843" y="203" width="3" height="10" fill="#ff0000" />
<rect x="844" y="204" width="1" height="8" fill="#ff4500" />
<rect x="848" y="201" width="1" height="20" fill="#32cd32" />
<rect x="847" y="203" width="3" height="15" fill="#32cd32" />
<rect x="852" y="216" width="1" height="10" fill="#32cd32" />
<rect x="851" y="218" width="3" height="6" fill="#32cd32" />
<rect x="856" y="217" width="1" height="13" fill="#ff0000" />
<rect x="855" y="219" width="3" height="6" fill="#ff0000" />
<rect x="856" y="220" width="1" height="4" fill="#ff4500" />
<rect x="860" y="217" width="1" height="27" fill="#32cd32" />
<rect x="859" y="221" width="3" height="23" fill="#32cd32" />
<rect x="864" y="226" width="1" height="19" fill="#ff0000" />
<rect x="863" y="231" width="3" height="13" fill="#ff0000" />
<rect x="864" y="232" width="1" height="11" fill="#ff4500" />
<rect x="868" y="217" width="1" height="16" fill="#ff0000" />
<rect x="867" y="228" width="3" height="4" fill="#ff0000" />
<rect x="868" y="229" width="1" height="2" fill="#ff4500" />
<rect x="872" y="215" width="1" height="29" fill="#32cd32" />
<rect x="871" y="228" width="3" height="14" fill="#32cd32" />
<rect x="876" y="237" width="1" height="17" fill="#32cd32" />
<rect x="875" y="240" width="3" height="13" fill="#32cd32" />
<rect x="880" y="251" width="1" height="32" fill="#32cd32" />
<rect x="879" y="255" width="3" height="25" fill="#32cd32" />
<rect x="884" y="267" width="1" height="22" fill="#32cd32" />
<rect x="883" y="279" width="3" height="3" fill="#32cd32" />
<rect x="888" y="266" width="1" height="18" fill="#ff0000" />
<rect x="887" y="269" width="3" height="13" fill="#ff0000" />
<rect x="888" y="270" width="1" height="11" fill="#ff4500" />
<rect x="892" y="270" width="1" height="14" fill="#32cd32" />
<rect x="891" y="270" width="3" height="14" fill="#32cd32" />
<rect x="896" y="281" width="1" height="7" fill="#32cd32" />
<rect x="895" y="283" width="3" height="4" fill="#32cd32" />
<rect x="900" y="282" width="1" height="9" fill="#32cd32" />
<rect x="899" y="286" width="3" height="4" fill="#32cd32" />
<rect x="904" y="253" width="1" height="40" fill="#ff0000" />
<rect x="903" y="258" width="3" height="31" fill="#ff0000" />
<rect x="904" y="259" width="1" height="29" fill="#ff4500" />
<rect x="908" y="244" width="1" height="16" fill="#ff0000" />
<rect x="907" y="249" width="3" height="9" fill="#ff0000" />
<rect x="908" y="250" width="1" height="7" fill="#ff4500" />
<rect x="912" y="248" width="1" height="21" fill="#32cd32" />
<rect x="911" y="249" width="3" height="17" fill="#32cd32" />
<rect x="916" y="260" width="1" height="11" fill="#32cd32" />
<rect x="915" y="264" width="3" height="7" fill="#32cd32" />
<rect x="920" y="269" width="1" height="8" fill="#32cd32" />
<rect x="919" y="269" width="3" height="8" fill="#32cd32" />
<rect x="924" y="270" width="1" height="8" fill="#32cd32" />
<rect x="923" y="275" width="3" height="2" fill="#32cd32" />
<rect x="928" y="273" width="1" height="32" fill="#32cd32" />
<rect x="927" y="274" width="3" height="29" fill="#32cd32" />
<rect x="932" y="284" width="1" height="32" fill="#32cd32" />
<rect x="931" y="302" width="3" height="8" fill="#32cd32" />
<rect x="936" y="305" width="1" height="19" fill="#32cd32" />
<rect x="935" y="308" width="3" height="9" fill="#32cd32" />
<rect x="940" y="316" width="1" height="35" fill="#32cd32" />
<rect x="939" y="317" width="3" height="19" fill="#32cd32" />
<rect x="944" y="335" width="1" height="27" fill="#32cd32" />
<rect x="943" y="336" width="3" height="22" fill="#32cd32" />
<rect x="948" y="351" width="1" height="13" fill="#32cd32" />
<rect x="947" y="357" width="3" height="4" fill="#32cd32" />
<rect x="952" y="328" width="1" height="77" fill="#32cd32" />
<rect x="951" y="359" width="3" height="45" fill="#32cd32" />
<rect x="956" y="379" width="1" height="25" fill="#ff0000" />
<rect x="955" y="387" width="3" height="16" fill="#ff0000" />
<rect x="956" y="388" width="1" height="14" fill="#ff4500" />
<rect x="960" y="381" width="1" height="31" fill="#32cd32" />
<rect x="959" y="387" width="3" height="13" fill="#32cd32" />
<rect x="964" y="392" width="1" height="20" fill="#ff0000" />
<rect x="963" y="398" width="3" height="2" fill="#ff0000" />
<rect x="968" y="384" width="1" height="18" fill="#ff0000" />
<rect x="967" y="389" width="3" height="10" fill="#ff0000" />
<rect x="968" y="390" width="1" height="8" fill="#ff4500" />
<rect x="972" y="386" width="1" height="16" fill="#32cd32" />
<rect x="971" y="390" width="3" height="6" fill="#32cd32" />
<rect x="976" y="388" width="1" height="10" fill="#ff0000" />
<rect x="975" y="389" width="3" height="6" fill="#ff0000" />
<rect x="976" y="390" width="1" height="4" fill="#ff4500" />
<rect x="4" y="54" width="1" height="16" fill="#ff0000" />
</g>
<rect x="4" y="88" width="1" height="1" fill="#ff0000" class="c"/>
<g class="c">
<rect x="4" y="441" width="3" height="1" fill="#c4c4c4" />
<rect x="4" y="461" width="3" height="1" fill="#c4c4c4" />
<rect x="10" y="441" width="3" height="1" fill="#c4c4c4" />
<rect x="10" y="461" width="3" height="1" fill="#c4c4c4" />
<rect x="16" y="441" width="3" height="1" fill="#c4c4c4" />
<rect x="16" y="461" width="3" height="1" fill="#c4c4c4" />
<rect x="22" y="441" width="3" height="1" fill="#c4c4c4" />
<rect x="22" y="461" width="3" height="1" fill="#c4c4c4" />
<rect x="28" y="441" width="3" height="1" fill="#c4c4c4" />
<rect x="28" y="461" width="3" height="1" fill="#c4c4c4" />
<rect x="34" y="441" width="3" height="1" fill="#c4c4c4" />
<rect x="34" y="461" width="3" height="1" fill="#c4c4c4" />
<rect x="40" y="441" width="3" height="1" fill="#c4c4c4" />
<rect x="40" y="461" width="3" height="1" fill="#c4c4c4" />
<rect x="46" y="441" width="3" height="1" fill="#c4c4c4" />
<rect x="46" y="461" width="3" height="1" fill="#c4c4c4" />
<rect x="52" y="441" width="3" height="1" fill="#c4c4c4" />
<rect x="52" y="461" width="3" height="1" fill="#c4c4c4" />
<rect x="58" y="441" width="3" height="1" fill="#c4c4c4" />
<rect x="58" y="461" width="3" height="1" fill="#c4c4c4" />
<rect x="64" y="441" width="3" height="1" fill="#c4c4c4" />
<rect x="64" y="461" width="3" height="1" fill="#c4c4c4" />
<rect x="70" y="441" width="3" height="1" fill="#c4c4c4" />
<rect x="70" y="461" width="3" height="1" fill="#c4c4c4" />
<rect x="76" y="441" width="3" height="1" fill="#c4c4c4" />
<rect x="76" y="461" width="3" height="1" fill="#c4c4c4" />
<rect x="82" y="441" width="3" height="1" fill="#c4c4c4" />
<rect x="82" y="461" width="3" height="1" fill="#c4c4c4" />
<rect x="88" y="441" width="3" height="1" fill="#c4c4c4" />
<rect x="88" y="461" width="3" height="1" fill="#c4c4c4" />
<rect x="94" y="441" width="3" height="1" fill="#c4c4c4" />
<rect x="94" y="461" width="3" height="1" fill="#c4c4c4" />
<rect x="100" y="441" width="3" height="1" fill="#c4c4c4" />
<rect x="100" y="461" width="3" height="1" fill="#c4c4c4" />
<rect x="106" y="441" width="3" height="1" fill="#c4c4c4" />
<rect x="106" y="461" width="3" height="1" fill="#c4c4c4" />
<rect x="112" y="441" width="3" height="1" fill="#c4c4c4" />
<rect x="112" y="461" width="3" height="1" fill="#c4c4c4" />
<rect x="118" y="441" width="3" height="1" fill="#c4c4c4" />
<rect x="118" y="461" width="3" height="1" fill="#c4c4c4" />
<rect x="124" y="441" width="3" height="1" fill="#c4c4c4" />
<rect x="124" y="461" width="3" height="1" fill="#c4c4c4" />
<rect x="130" y="441" width="3" height="1" fill="#c4c4c4" />
<rect x="130" y="461" width="3" height="1" fill="#c4c4c4" />
<rect x="136" y="441" width="3" height="1" fill="#c4c4c4" />
<rect x="136" y="461" width="3" height="1" fill="#c4c4c4" />
<rect x="142" y="441" width="3" height="1" fill="#c4c4c4" />
<rect x="142" y="461" width="3" height="1" fill="#c4c4c4" />
<rect x="148" y="441" width="3" height="1" fill="#c4c4c4" />
<rect x="148" y="461" width="3" height="1" fill="#c4c4c4" />
<rect x="154" y="441" width="3" height="1" fill="#c4c4c4" />
<rect x="154" y="461" width="3" height="1" fill="#c4c4c4" />
<rect x="160" y="441" width="3" height="1" fill="#c4c4c4" />
<rect x="160" y="461" width="3" height="1" fill="#c4c4c4" />
<rect x="166" y="441" width="3" height="1" fill="#c4c4c4" />
<rect x="166" y="461" width="3" height="1" fill="#c4c4c4" />
<rect x="172" y="441" width="3" height="1" fill="#c4c4c4" />
<rect x="172" y="461" width="3" height="1" fill="#c4c4c4" />
<rect x="178" y="441" width="3" height="1" fill="#c4c4c4" />
<rect x="178" y="461" width="3" height="1" fill="#c4c4c4" />
<rect x="184" y="441" width="3" height="1" fill="#c4c4c4" />
<rect x="184" y="461" width="3" height="1" fill="#c4c4c4" />
<rect x="190" y="441" width="3" height="1" fill="#c4c4c4" />
<rect x="190" y="461" width="3" height="1" fill="#c4c4c4" />
<rect x="196" y="441" width="3" height="1" fill="#c4c4c4" />
<rect x="196" y="461" width="3" height="1" fill="#c4c4c4" />
<rect x="202" y="441" width="3" height="1" fill="#c4c4c4" />
<rect x="202" y="461" width="3" height="1" fill="#c4c4c4" />
<rect x="208" y="441" width="3" height="1" fill="#c4c4c4" />
<rect x="208" y="461" width="3" height="1" fill="#c4c4c4" />
<rect x="214" y="441" width="3" height="1" fill="#c4c4c4" />
<rect x="214" y="461" width="3" height="1" fill="#c4c4c4" />
<rect x="220" y="441" width="3" height="1" fill="#c4c4c4" />
<rect x="220" y="461" width="3" height="1" fill="#c4c4c4" />
<rect x="226" y="441" width="3" height="1" fill="#c4c4c4" />
<rect x="226" y="461" width="3" height="1" fill="#c4c4c4" />
<rect x="232" y="441" width="3" height="1" fill="#c4c4c4" />
<rect x="232" y="461" width="3" height="1" fill="#c4c4c4" />
<rect x="238" y="441" width="3" height="1" fill="#c4c4c4" />
<rect x="238" y="461" width="3" height="1" fill="#c4c4c4" />
<rect x="244" y="441" width="3" height="1" fill="#c4c4c4" />
<rect x="244" y="461" width="3" height="1" fill="#c4c4c4" />
<rect x="250" y="441" width="3" height="1" fill="#c4c4c4" />
<rect x="250" y="461" width="3" height="1" fill="#c4c4c4" />
<rect x="256" y="441" width="3" height="1" fill="#c4c4c4" />
<rect x="256" y="461" width="3" height="1" fill="#c4c4c4" />
<rect x="262" y="441" width="3" height="1" fill="#c4c4c4" />
<rect x="262" y="461" width="3" height="1" fill="#c4c4c4" />
<rect x="268" y="441" width="3" height="1" fill="#c4c4c4" />
<rect x="268" y="461" width="3" height="1" fill="#c4c4c4" />
<rect x="274" y="441" width="3" height="1" fill="#c4c4c4" />
<rect x="274" y="461" width="3" height="1" fill="#c4c4c4" />
<rect x="280" y="441" width="3" height="1" fill="#c4c4c4" />
<rect x="280" y="461" width="3" height="1" fill="#c4c4c4" />
<rect x="286" y="441" width="3" height="1" fill="#c4c4c4" />
<rect x="286" y="461" width="3" height="1" fill="#c4c4c4" />
<rect x="292" y="441" width="3" height="1" fill="#c4c4c4" />
<rect x="292" y="461" width="3" height="1" fill="#c4c4c4" />
<rect x="298" y="441" width="3" height="1" fill="#c4c4c4" />
<rect x="298" y="461" width="3" height="1" fill="#c4c4c4" />
<rect x="304" y="441" width="3" height="1" fill="#c4c4c4" />
<rect x="304" y="461" width="3" height="1" fill="#c4c4c4" />
<rect x="310" y="441" width="3" height="1" fill="#c4c4c4" />
<rect x="310" y="461" width="3" height="1" fill="#c4c4c4" />
<rect x="316" y="441" width="3" height="1" fill="#c4c4c4" />
<rect x="316" y="461" width="3" height="1" fill="#c4c4c4" />
<rect x="322" y="441" width="3" height="1" fill="#c4c4c4" />
<rect x="322" y="461" width="3" height="1" fill="#c4c4c4" />
<rect x="328" y="441" width="3" height="1" fill="#c4c4c4" />
<rect x="328" y="461" width="3" height="1" fill="#c4c4c4" />
<rect x="334" y="441" width="3" height="1" fill="#c4c4c4" />
<rect x="334" y="461" width="3" height="1" fill="#c4c4c4" />
<rect x="340" y="441" width="3" height="1" fill="#c4c4c4" />
<rect x="340" y="461" width="3" height="1" fill="#c4c4c4" />
<rect x="346" y="441" width="3" height="1" fill="#c4c4c4" />
<rect x="346" y="461" width="3" height="1" fill="#c4c4c4" />
<rect x="352" y="441" width="3" height="1" fill="#c4c4c4" />
<rect x="352" y="461" width="3" height="1" fill="#c4c4c4" />
<rect x="358" y="441" width="3" height="1" fill="#c4c4c4" />
<rect x="358" y="461" width="3" height="1" fill="#c4c4c4" />
<rect x="364" y="441" width="3" height="1" fill="#c4c4c4" />
<rect x="364" y="461" width="3" height="1" fill="#c4c4c4" />
<rect x="370" y="441" width="3" height="1" fill="#c4c4c4" />
<rect x="370" y="461" width="3" height="1" fill="#c4c4c4" />
<rect x="376" y="441" width="3" height="1" fill="#c4c4c4" />
<rect x="376" y="461" width="3" height="1" fill="#c4c4c4" />
<rect x="382" y="441" width="3" height="1" fill="#c4c4c4" />
<rect x="382" y="461" width="3" height="1" fill="#c4c4c4" />
<rect x="388" y="441" width="3" height="1" fill="#c4c4c4" />
<rect x="388" y="461" width="3" height="1" fill="#c4c4c4" />
<rect x="394" y="441" width="3" height="1" fill="#c4c4c4" />
<rect x="394" y="461" width="3" height="1" fill="#c4c4c4" />
<rect x="400" y="441" width="3" height="1" fill="#c4c4c4" />
<rect x="400" y="461" width="3" height="1" fill="#c4c4c4" />
<rect x="406" y="441" width="3" height="1" fill="#c4c4c4" />
<rect x="406" y="461" width="3" height="1" fill="#c4c4c4" />
<rect x="412" y="441" width="3" height="1" fill="#c4c4c4" />
<rect x="412" y="461" width="3" height="1" fill="#c4c4c4" />
<rect x="418" y="441" width="3" height="1" fill="#c4c4c4" />
<rect x="418" y="461" width="3" height="1" fill="#c4c4c4" />
<rect x="424" y="441" width="3" height="1" fill="#c4c4c4" />
<rect x="424" y="461" width="3" height="1" fill="#c4c4c4" />
<rect x="430" y="441" width="3" height="1" fill="#c4c4c4" />
<rect x="430" y="461" width="3" height="1" fill="#c4c4c4" />
<rect x="436" y="441" width="3" height="1" fill="#c4c4c4" />
<rect x="436" y="461" width="3" height="1" fill="#c4c4c4" />
<rect x="442" y="441" width="3" height="1" fill="#c4c4c4" />
<rect x="442" y="461" width="3" height="1" fill="#c4c4c4" />
<rect x="448" y="441" width="3" height="1" fill="#c4c4c4" />
<rect x="448" y="461" width="3" height="1" fill="#c4c4c4" />
<rect x="454" y="441" width="3" height="1" fill="#c4c4c4" />
<rect x="454" y="461" width="3" height="1" fill="#c4c4c4" />
<rect x="460" y="441" width="3" height="1" fill="#c4c4c4" />
<rect x="460" y="461" width="3" height="1" fill="#c4c4c4" />
<rect x="466" y="441" width="3" height="1" fill="#c4c4c4" />
<rect x="466" y="461" width="3" height="1" fill="#c4c4c4" />
<rect x="472" y="441" width="3" height="1" fill="#c4c4c4" />
<rect x="472" y="461" width="3" height="1" fill="#c4c4c4" />
<rect x="478" y="441" width="3" height="1" fill="#c4c4c4" />
<rect x="478" y="461" width="3" height="1" fill="#c4c4c4" />
<rect x="484" y="441" width="3" height="1" fill="#c4c4c4" />
<rect x="484" y="461" width="3" height="1" fill="#c4c4c4" />
<rect x="490" y="441" width="3" height="1" fill="#c4c4c4" />
<rect x="490" y="461" width="3" height="1" fill="#c4c4c4" />
<rect x="496" y="441" width="3" height="1" fill="#c4c4c4" />
<rect x="496" y="461" width="3" height="1" fill="#c4c4c4" />
<rect x="502" y="441" width="3" height="1" fill="#c4c4c4" />
<rect x="502" y="461" width="3" height="1" fill="#c4c4c4" />
<rect x="508" y="441" width="3" height="1" fill="#c4c4c4" />
<rect x="508" y="461" width="3" height="1" fill="#c4c4c4" />
<rect x="514" y="441" width="3" height="1" fill="#c4c4c4" />
<rect x="514" y="461" width="3" height="1" fill="#c4c4c4" />
<rect x="520" y="441" width="3" height="1" fill="#c4c4c4" />
<rect x="520" y="461" width="3" height="1" fill="#c4c4c4" />
<rect x="526" y="441" width="3" height="1" fill="#c4c4c4" />
<rect x="526" y="461" width="3" height="1" fill="#c4c4c4" />
<rect x="532" y="441" width="3" height="1" fill="#c4c4c4" />
<rect x="532" y="461" width="3" height="1" fill="#c4c4c4" />
<rect x="538" y="441" width="3" height="1" fill="#c4c4c4" />
<rect x="538" y="461" width="3" height="1" fill="#c4c4c4" />
<rect x="544" y="441" width="3" height="1" fill="#c4c4c4" />
<rect x="544" y="461" width="3" height="1" fill="#c4c4c4" />
<rect x="550" y="441" width="3" height="1" fill="#c4c4c4" />
<rect x="550" y="461" width="3" height="1" fill="#c4c4c4" />
<rect x="556" y="441" width="3" height="1" fill="#c4c4c4" />
<rect x="556" y="461" width="3" height="1" fill="#c4c4c4" />
<rect x="562" y="441" width="3" height="1" fill="#c4c4c4" />
<rect x="562" y="461" width="3" height="1" fill="#c4c4c4" />
<rect x="568" y="441" width="3" height="1" fill="#c4c4c4" />
<rect x="568" y="461" width="3" height="1" fill="#c4c4c4" />
<rect x="574" y="441" width="3" height="1" fill="#c4c4c4" />
<rect x="574" y="461" width="3" height="1" fill="#c4c4c4" />
<rect x="580" y="441" width="3" height="1" fill="#c4c4c4" />
<rect x="580" y="461" width="3" height="1" fill="#c4c4c4" />
<rect x="586" y="441" width="3" height="1" fill="#c4c4c4" />
<rect x="586" y="461" width="3" height="1" fill="#c4c4c4" />
<rect x="592" y="441" width="3" height="1" fill="#c4c4c4" />
<rect x="592" y="461" width="3" height="1" fill="#c4c4c4" />
<rect x="598" y="441" width="3" height="1" fill="#c4c4c4" />
<rect x="598" y="461" width="3" height="1" fill="#c4c4c4" />
<rect x="604" y="441" width="3" height="1" fill="#c4c4c4" />
<rect x="604" y="461" width="3" height="1" fill="#c4c4c4" />
<rect x="610" y="441" width="3" height="1" fill="#c4c4c4" />
<rect x="610" y="461" width="3" height="1" fill="#c4c4c4" />
<rect x="616" y="441" width="3" height="1" fill="#c4c4c4" />
<rect x="616" y="461" width="3" height="1" fill="#c4c4c4" />
<rect x="622" y="441" width="3" height="1" fill="#c4c4c4" />
<rect x="622" y="461" width="3" height="1" fill="#c4c4c4" />
<rect x="628" y="441" width="3" height="1" fill="#c4c4c4" />
<rect x="628" y="461" width="3" height="1" fill="#c4c4c4" />
<rect x="634" y="441" width="3" height="1" fill="#c4c4c4" />
<rect x="634" y="461" width="3" height="1" fill="#c4c4c4" />
<rect x="640" y="441" width="3" height="1" fill="#c4c4c4" />
<rect x="640" y="461" width="3" height="1" fill="#c4c4c4" />
<rect x="646" y="441" width="3" height="1" fill="#c4c4c4" />
<rect x="646" y="461" width="3" height="1" fill="#c4c4c4" />
<rect x="652" y="441" width="3" height="1" fill="#c4c4c4" />
<rect x="652" y="461" width="3" height="1" fill="#c4c4c4" />
<rect x="658" y="441" width="3" height="1" fill="#c4c4c4" />
<rect x="658" y="461" width="3" height="1" fill="#c4c4c4" />
<rect x="664" y="441" width="3" height="1" fill="#c4c4c4" />
<rect x="664" y="461" width="3" height="1" fill="#c4c4c4" />
<rect x="670" y="441" width="3" height="1" fill="#c4c4c4" />
<rect x="670" y="461" width="3" height="1" fill="#c4c4c4" />
<rect x="676" y="441" width="3" height="1" fill="#c4c4c4" />
<rect x="676" y="461" width="3" height="1" fill="#c4c4c4" />
<rect x="682" y="441" width="3" height="1" fill="#c4c4c4" />
<rect x="682" y="461" width="3" height="1" fill="#c4c4c4" />
<rect x="688" y="441" width="3" height="1" fill="#c4c4c4" />
<rect x="688" y="461" width="3" height="1" fill="#c4c4c4" />
<rect x="694" y="441" width="3" height="1" fill="#c4c4c4" />
<rect x="694" y="461" width="3" height="1" fill="#c4c4c4" />
<rect x="700" y="441" width="3" height="1" fill="#c4c4c4" />
<rect x="700" y="461" width="3" height="1" fill="#c4c4c4" />
<rect x="706" y="441" width="3" height="1" fill="#c4c4c4" />
<rect x="706" y="461" width="3" height="1" fill="#c4c4c4" />
<rect x="712" y="441" width="3" height="1" fill="#c4c4c4" />
<rect x="712" y="461" width="3" height="1" fill="#c4c4c4" />
<rect x="718" y="441" width="3" height="1" fill="#c4c4c4" />
<rect x="718" y="461" width="3" height="1" fill="#c4c4c4" />
<rect x="724" y="441" width="3" height="1" fill="#c4c4c4" />
<rect x="724" y="461" width="3" height="1" fill="#c4c4c4" />
<rect x="730" y="441" width="3" height="1" fill="#c4c4c4" />
<rect x="730" y="461" width="3" height="1" fill="#c4c4c4" />
<rect x="736" y="441" width="3" height="1" fill="#c4c4c4" />
<rect x="736" y="461" width="3" height="1" fill="#c4c4c4" />
<rect x="742" y="441" width="3" height="1" fill="#c4c4c4" />
<rect x="742" y="461" width="3" height="1" fill="#c4c4c4" />
<rect x="748" y="441" width="3" height="1" fill="#c4c4c4" />
<rect x="748" y="461" width="3" height="1" fill="#c4c4c4" />
<rect x="754" y="441" width="3" height="1" fill="#c4c4c4" />
<rect x="754" y="461" width="3" height="1" fill="#c4c4c4" />
<rect x="760" y="441" width="3" height="1" fill="#c4c4c4" />
<rect x="760" y="461" width="3" height="1" fill="#c4c4c4" />
<rect x="766" y="441" width="3" height="1" fill="#c4c4c4" />
<rect x="766" y="461" width="3" height="1" fill="#c4c4c4" />
<rect x="772" y="441" width="3" height="1" fill="#c4c4c4" />
<rect x="772" y="461" width="3" height="1" fill="#c4c4c4" />
<rect x="778" y="441" width="3" height="1" fill="#c4c4c4" />
<rect x="778" y="461" width="3" height="1" fill="#c4c4c4" />
<rect x="784" y="441" width="3" height="1" fill="#c4c4c4" />
<rect x="784" y="461" width="3" height="1" fill="#c4c4c4" />
<rect x="790" y="441" width="3" height="1" fill="#c4c4c4" />
<rect x="790" y="461" width="3" height="1" fill="#c4c4c4" />
<rect x="796" y="441" width="3" height="1" fill="#c4c4c4" />
<rect x="796" y="461" width="3" height="1" fill="#c4c4c4" />
<rect x="802" y="441" width="3" height="1" fill="#c4c4c4" />
<rect x="802" y="461" width="3" height="1" fill="#c4c4c4" />
<rect x="808" y="441" width="3" height="1" fill="#c4c4c4" />
<rect x="808" y="461" width="3" height="1" fill="#c4c4c4" />
<rect x="814" y="441" width="3" height="1" fill="#c4c4c4" />
<rect x="814" y="461" width="3" height="1" fill="#c4c4c4" />
<rect x="820" y="441" width="3" height="1" fill="#c4c4c4" />
<rect x="820" y="461" width="3" height="1" fill="#c4c4c4" />
<rect x="826" y="441" width="3" height="1" fill="#c4c4c4" />
<rect x="826" y="461" width="3" height="1" fill="#c4c4c4" />
<rect x="832" y="441" width="3" height="1" fill="#c4c4c4" />
<rect x="832" y="461" width="3" height="1" fill="#c4c4c4" />
<rect x="838" y="441" width="3" height="1" fill="#c4c4c4" />
<rect x="838" y="461" width="3" height="1" fill="#c4c4c4" />
<rect x="844" y="441" width="3" height="1" fill="#c4c4c4" />
<rect x="844" y="461" width="3" height="1" fill="#c4c4c4" />
<rect x="850" y="441" width="3" height="1" fill="#c4c4c4" />
<rect x="850" y="461" width="3" height="1" fill="#c4c4c4" />
<rect x="856" y="441" width="3" height="1" fill="#c4c4c4" />
<rect x="856" y="461" width="3" height="1" fill="#c4c4c4" />
<rect x="862" y="441" width="3" height="1" fill="#c4c4c4" />
<rect x="862" y="461" width="3" height="1" fill="#c4c4c4" />
<rect x="868" y="441" width="3" height="1" fill="#c4c4c4" />
<rect x="868" y="461" width="3" height="1" fill="#c4c4c4" />
<rect x="874" y="441" width="3" height="1" fill="#c4c4c4" />
<rect x="874" y="461" width="3" height="1" fill="#c4c4c4" />
<rect x="880" y="441" width="3" height="1" fill="#c4c4c4" />
<rect x="880" y="461" width="3" height="1" fill="#c4c4c4" />
<rect x="886" y="441" width="3" height="1" fill="#c4c4c4" />
<rect x="886" y="461" width="3" height="1" fill="#c4c4c4" />
<rect x="892" y="441" width="3" height="1" fill="#c4c4c4" />
<rect x="892" y="461" width="3" height="1" fill="#c4c4c4" />
<rect x="898" y="441" width="3" height="1" fill="#c4c4c4" />
<rect x="898" y="461" width="3" height="1" fill="#c4c4c4" />
<rect x="904" y="441" width="3" height="1" fill="#c4c4c4" />
<rect x="904" y="461" width="3" height="1" fill="#c4c4c4" />
<rect x="910" y="441" width="3" height="1" fill="#c4c4c4" />
<rect x="910" y="461" width="3" height="1" fill="#c4c4c4" />
<rect x="916" y="441" width="3" height="1" fill="#c4c4c4" />
<rect x="916" y="461" width="3" height="1" fill="#c4c4c4" />
<rect x="922" y="441" width="3" height="1" fill="#c4c4c4" />
<rect x="922" y="461" width="3" height="1" fill="#c4c4c4" />
<rect x="928" y="441" width="3" height="1" fill="#c4c4c4" />
<rect x="928" y="461" width="3" height="1" fill="#c4c4c4" />
<rect x="934" y="441" width="3" height="1" fill="#c4c4c4" />
<rect x="934" y="461" width="3" height="1" fill="#c4c4c4" />
<rect x="940" y="441" width="3" height="1" fill="#c4c4c4" />
<rect x="940" y="461" width="3" height="1" fill="#c4c4c4" />
<rect x="946" y="441" width="3" height="1" fill="#c4c4c4" />
<rect x="946" y="461" width="3" height="1" fill="#c4c4c4" />
<rect x="952" y="441" width="3" height="1" fill="#c4c4c4" />
<rect x="952" y="461" width="3" height="1" fill="#c4c4c4" />
<rect x="958" y="441" width="3" height="1" fill="#c4c4c4" />
<rect x="958" y="461" width="3" height="1" fill="#c4c4c4" />
<rect x="964" y="441" width="3" height="1" fill="#c4c4c4" />
<rect x="964" y="461" width="3" height="1" fill="#c4c4c4" />
<rect x="970" y="441" width="3" height="1" fill="#c4c4c4" />
<rect x="970" y="461" width="3" height="1" fill="#c4c4c4" />
<rect x="976" y="441" width="3" height="1" fill="#c4c4c4" />
<rect x="976" y="461" width="3" height="1" fill="#c4c4c4" />
<rect x="982" y="441" width="3" height="1" fill="#c4c4c4" />
<rect x="982" y="461" width="3" height="1" fill="#c4c4c4" />
<rect x="988" y="441" width="3" height="1" fill="#c4c4c4" />
<rect x="988" y="461" width="3" height="1" fill="#c4c4c4" />
<rect x="994" y="441" width="3" height="1" fill="#c4c4c4" />
<rect x="994" y="461" width="3" height="1" fill="#c4c4c4" />
<rect x="1000" y="441" width="3" height="1" fill="#c4c4c4" />
<rect x="1000" y="461" width="3" height="1" fill="#c4c4c4" />
<rect x="1006" y="441" width="3" height="1" fill="#c4c4c4" />
<rect x="1006" y="461" width="3" height="1" fill="#c4c4c4" />
<rect x="1012" y="441" width="3" height="1" fill="#c4c4c4" />
<rect x="1012" y="461" width="3" height="1" fill="#c4c4c4" />
<rect x="1018" y="441" width="3" height="1" fill="#c4c4c4" />
<rect x="1018" y="461" width="3" height="1" fill="#c4c4c4" />
<rect x="1024" y="441" width="3" height="1" fill="#c4c4c4" />
<rect x="1024" y="461" width="3" height="1" fill="#c4c4c4" />
<rect x="1030" y="441" width="3" height="1" fill="#c4c4c4" />
<rect x="1030" y="461" width="3" height="1" fill="#c4c4c4" />
<rect x="1036" y="441" width="3" height="1" fill="#c4c4c4" />
<rect x="1036" y="461" width="3" height="1" fill="#c4c4c4" />
<rect x="1042" y="441" width="3" height="1" fill="#c4c4c4" />
<rect x="1042" y="461" width="3" height="1" fill="#c4c4c4" />
<rect x="1048" y="441" width="3" height="1" fill="#c4c4c4" />
<rect x="1048" y="461" width="3" height="1" fill="#c4c4c4" />
<rect x="1054" y="441" width="3" height="1" fill="#c4c4c4" />
<rect x="1054" y="461" width="3" height="1" fill="#c4c4c4" />
<rect x="1060" y="441" width="3" height="1" fill="#c4c4c4" />
<rect x="1060" y="461" width="3" height="1" fill="#c4c4c4" />
<rect x="1066" y="441" width="3" height="1" fill="#c4c4c4" />
<rect x="1066" y="461" width="3" height="1" fill="#c4c4c4" />
<rect x="1072" y="441" width="3" height="1" fill="#c4c4c4" />
<rect x="1072" y="461" width="3" height="1" fill="#c4c4c4" />
<rect x="1078" y="441" width="3" height="1" fill="#c4c4c4" />
<rect x="1078" y="461" width="3" height="1" fill="#c4c4c4" />
<rect x="1084" y="441" width="3" height="1" fill="#c4c4c4" />
<rect x="1084" y="461" width="3" height="1" fill="#c4c4c4" />
<rect x="1090" y="441" width="3" height="1" fill="#c4c4c4" />
<rect x="1090" y="461" width="3" height="1" fill="#c4c4c4" />
<rect x="1096" y="441" width="3" height="1" fill="#c4c4c4" />
<rect x="1096" y="461" width="3" height="1" fill="#c4c4c4" />
<rect x="1102" y="441" width="3" height="1" fill="#c4c4c4" />
<rect x="1102" y="461" width="3" height="1" fill="#c4c4c4" />
<rect x="1108" y="441" width="3" height="1" fill="#c4c4c4" />
<rect x="1108" y="461" width="3" height="1" fill="#c4c4c4" />
<rect x="1114" y="441" width="3" height="1" fill="#c4c4c4" />
<rect x="1114" y="461" width="3" height="1" fill="#c4c4c4" />
<rect x="1120" y="441" width="3" height="1" fill="#c4c4c4" />
<rect x="1120" y="461" width="3" height="1" fill="#c4c4c4" />
<rect x="1126" y="441" width="3" height="1" fill="#c4c4c4" />
<rect x="1126" y="461" width="3" height="1" fill="#c4c4c4" />
<rect x="1132" y="441" width="3" height="1" fill="#c4c4c4" />
<rect x="1132" y="461" width="3" height="1" fill="#c4c4c4" />
<rect x="1138" y="441" width="3" height="1" fill="#c4c4c4" />
<rect x="1138" y="461" width="3" height="1" fill="#c4c4c4" />
<rect x="1144" y="441" width="3" height="1" fill="#c4c4c4" />
<rect x="1144" y="461" width="3" height="1" fill="#c4c4c4" />
<rect x="1150" y="441" width="3" height="1" fill="#c4c4c4" />
<rect x="1150" y="461" width="3" height="1" fill="#c4c4c4" />
<rect x="1156" y="441" width="3" height="1" fill="#c4c4c4" />
<rect x="1156" y="461" width="3" height="1" fill="#c4c4c4" />
<rect x="1162" y="441" width="3" height="1" fill="#c4c4c4" />
<rect x="1162" y="461" width="3" height="1" fill="#c4c4c4" />
<rect x="1168" y="441" width="3" height="1" fill="#c4c4c4" />
<rect x="1168" y="461" width="3" height="1" fill="#c4c4c4" />
<rect x="1174" y="441" width="3" height="1" fill="#c4c4c4" />
<rect x="1174" y="461" width="3" height="1" fill="#c4c4c4" />
<rect x="1180" y="441" width="3" height="1" fill="#c4c4c4" />
<rect x="1180" y="461" width="3" height="1" fill="#c4c4c4" />
<rect x="1186" y="441" width="3" height="1" fill="#c4c4c4" />
<rect x="1186" y="461" width="3" height="1" fill="#c4c4c4" />
<rect x="1192" y="441" width="3" height="1" fill="#c4c4c4" />
<rect x="1192" y="461" width="3" height="1" fill="#c4c4c4" />
<rect x="1198" y="441" width="3" height="1" fill="#c4c4c4" />
<rect x="1198" y="461" width="3" height="1" fill="#c4c4c4" />
<rect x="1204" y="441" width="3" height="1" fill="#c4c4c4" />
<rect x="1204" y="461" width="3" height="1" fill="#c4c4c4" />
<rect x="1210" y="441" width="3" height="1" fill="#c4c4c4" />
<rect x="1210" y="461" width="3" height="1" fill="#c4c4c4" />
<rect x="1216" y="441" width="3" height="1" fill="#c4c4c4" />
<rect x="1216" y="461" width="3" height="1" fill="#c4c4c4" />
<rect x="1222" y="441" width="3" height="1" fill="#c4c4c4" />
<rect x="1222" y="461" width="3" height="1" fill="#c4c4c4" />
<rect x="1228" y="441" width="3" height="1" fill="#c4c4c4" />
<rect x="1228" y="461" width="3" height="1" fill="#c4c4c4" />
</g>
<polyline points="3.9,441.6 7.8,449.8 15.5,447.8 22.0,450.6 28.4,451.1 33.6,449.8 40.0,449.3 46.5,451.9 53.0,452.4 59.0,457.1 64.6,455.0 72.4,460.7 77.5,454.5 85.3,449.8 89.1,450.4 93.0,456.3 96.9,456.3 103.4,451.1 111.1,451.1 117.6,452.9 127.9,450.4 134.4,449.8 144.7,448.3 152.5,448.3 160.2,452.9 168.0,457.6 173.1,455.5 178.3,456.3 184.8,455.0 191.2,452.9 193.8,454.5 199.0,451.9 206.7,446.7 215.8,445.2 224.3,451.9 228.7,449.8 237.7,447.8 248.0,446.7 252.0,447.8 258.4,442.9 264.9,446.5 271.3,446.0 280.4,444.2 284.2,454.5 295.9,453.7 299.7,451.1 307.5,455.5 314.0,452.9 320.0,450.4 324.7,450.4 328.3,445.2 331.6,447.8 335.5,457.6 340.2,464.8 343.3,462.2 348.4,463.3 353.6,463.3 361.3,466.6 367.8,468.4 373.0,465.3 376.8,465.3 384.6,457.1 392.4,459.4 400.1,458.1 405.3,455.5 409.1,451.1 413.0,451.1 416.9,448.5 420.8,450.4 425.9,451.1 432.4,455.5 437.6,450.6 441.4,450.4 445.3,451.4 451.8,451.4 459.5,446.0 464.7,443.9 468.6,443.1 472.5,444.7 476.3,445.2 480.7,449.1 485.4,449.3 488.5,451.1 491.8,449.3 497.0,449.3 504.8,454.5 508.6,453.2 512.5,453.2 516.9,457.1 521.6,457.1 524.1,458.1 526.7,457.1 529.3,457.6 532.4,459.4 536.5,453.2 539.6,452.4 544.3,453.7 548.7,452.4 553.9,449.8 560.3,446.7 569.4,446.5 573.2,449.1 577.1,448.5 579.7,449.3 583.6,448.3 590.0,448.3 596.0,451.1 599.6,449.3 604.2,452.4 608.1,449.3 613.3,451.9 619.7,453.7 624.9,450.6 630.0,450.4 632.7,451.4 636.5,447.8 640.0,447.3 643.9,445.4 647.8,447.8 652.4,453.2 656.8,450.4 661.2,452.4 665.8,451.9 671.0,449.3 676.2,446.5 683.9,444.2 688.6,449.8 693.0,449.3 698.1,449.3 704.6,451.1 709.8,451.4 712.9,453.2 716.2,451.9 720.6,455.5 724.0,453.2 728.4,456.6 733.0,452.4 740.8,451.9 743.9,451.1 748.5,457.6 752.4,455.5 758.9,458.1 765.3,460.7 768.7,459.4 772.3,454.5 775.7,453.2 780.8,454.5 784.7,453.2 789.9,455.5 793.7,455.5 800.2,458.1 808.0,458.1 812.6,455.0 817.0,457.1 820.9,456.3 824.8,451.1 828.6,451.1 835.1,448.5 840.3,448.5 844.1,447.3 849.3,449.8 853.2,451.9 855.8,451.1 860.2,455.5 864.8,452.9 868.7,452.4 872.6,455.0 876.4,456.3 881.6,460.7 884.2,460.7 888.6,457.1 894.5,460.2 900.5,460.7 904.1,452.4 907.4,450.6 911.3,453.2 915.2,455.0 924.2,456.6 929.4,459.7 934.6,461.0 939.7,463.3 944.9,465.3 948.8,465.3 952.7,468.4 956.5,464.3 960.4,465.3 965.6,463.5 970.0,463.3 976.0,463.0" fill="none" stroke="#1e90ff" stroke-width="1" stroke-linejoin="round" shape-rendering="crispEdges"/>
<g class="c">
<rect x="3" y="485" width="3" height="26" fill="#c0c0c0" />
<rect x="7" y="489" width="3" height="22" fill="#c0c0c0" />
<rect x="11" y="489" width="3" height="22" fill="#c0c0c0" />
<rect x="15" y="491" width="3" height="20" fill="#c0c0c0" />
<rect x="19" y="493" width="3" height="18" fill="#c0c0c0" />
<rect x="23" y="496" width="3" height="15" fill="#c0c0c0" />
<rect x="27" y="498" width="3" height="13" fill="#c0c0c0" />
<rect x="31" y="499" width="3" height="12" fill="#c0c0c0" />
<rect x="35" y="501" width="3" height="10" fill="#c0c0c0" />
<rect x="39" y="502" width="3" height="9" fill="#c0c0c0" />
<rect x="43" y="503" width="3" height="8" fill="#c0c0c0" />
<rect x="47" y="504" width="3" height="7" fill="#c0c0c0" />
<rect x="51" y="506" width="3" height="5" fill="#c0c0c0" />
<rect x="55" y="509" width="3" height="2" fill="#c0c0c0" />
<rect x="59" y="511" width="3" height="2" fill="#c0c0c0" />
<rect x="63" y="511" width="3" height="3" fill="#c0c0c0" />
<rect x="67" y="511" width="3" height="5" fill="#c0c0c0" />
<rect x="71" y="511" width="3" height="9" fill="#c0c0c0" />
<rect x="75" y="511" width="3" height="10" fill="#c0c0c0" />
<rect x="79" y="511" width="3" height="10" fill="#c0c0c0" />
<rect x="83" y="511" width="3" height="8" fill="#c0c0c0" />
<rect x="87" y="511" width="3" height="7" fill="#c0c0c0" />
<rect x="91" y="511" width="3" height="8" fill="#c0c0c0" />
<rect x="95" y="511" width="3" height="10" fill="#c0c0c0" />
<rect x="99" y="511" width="3" height="10" fill="#c0c0c0" />
<rect x="103" y="511" width="3" height="10" fill="#c0c0c0" />
<rect x="107" y="511" width="3" height="9" fill="#c0c0c0" />
<rect x="111" y="511" width="3" height="8" fill="#c0c0c0" />
<rect x="115" y="511" width="3" height="7" fill="#c0c0c0" />
<rect x="119" y="511" width="3" height="7" fill="#c0c0c0" />
<rect x="123" y="511" width="3" height="6" fill="#c0c0c0" />
<rect x="127" y="511" width="3" height="5" fill="#c0c0c0" />
<rect x="131" y="511" width="3" height="4" fill="#c0c0c0" />
<rect x="135" y="511" width="3" height="2" fill="#c0c0c0" />
<rect x="139" y="511" width="3" height="1" fill="#c0c0c0" />
<rect x="143" y="511" width="3" height="1" fill="#c0c0c0" />
<rect x="147" y="509" width="3" height="2" fill="#c0c0c0" />
<rect x="151" y="508" width="3" height="3" fill="#c0c0c0" />
<rect x="155" y="508" width="3" height="3" fill="#c0c0c0" />
<rect x="159" y="510" width="3" height="1" fill="#c0c0c0" />
<rect x="163" y="511" width="3" height="1" fill="#c0c0c0" />
<rect x="167" y="511" width="3" height="4" fill="#c0c0c0" />
<rect x="171" y="511" width="3" height="5" fill="#c0c0c0" />
<rect x="175" y="511" width="3" height="6" fill="#c0c0c0" />
<rect x="179" y="511" width="3" height="7" fill="#c0c0c0" />
<rect x="183" y="511" width="3" height="8" fill="#c0c0c0" />
<rect x="187" y="511" width="3" height="8" fill="#c0c0c0" />
<rect x="191" y="511" width="3" height="7" fill="#c0c0c0" />
<rect x="195" y="511" width="3" height="7" fill="#c0c0c0" />
<rect x="199" y="511" width="3" height="5" fill="#c0c0c0" />
<rect x="203" y="511" width="3" height="4" fill="#c0c0c0" />
<rect x="207" y="511" width="3" height="1" fill="#c0c0c0" />
<rect x="211" y="510" width="3" height="1" fill="#c0c0c0" />
<rect x="215" y="507" width="3" height="4" fill="#c0c0c0" />
<rect x="219" y="507" width="3" height="4" fill="#c0c0c0" />
<rect x="223" y="508" width="3" height="3" fill="#c0c0c0" />
<rect x="227" y="508" width="3" height="3" fill="#c0c0c0" />
<rect x="231" y="507" width="3" height="4" fill="#c0c0c0" />
<rect x="235" y="506" width="3" height="5" fill="#c0c0c0" />
<rect x="239" y="505" width="3" height="6" fill="#c0c0c0" />
<rect x="243" y="504" width="3" height="7" fill="#c0c0c0" />
<rect x="247" y="504" width="3" height="7" fill="#c0c0c0" />
<rect x="251" y="503" width="3" height="8" fill="#c0c0c0" />
<rect x="255" y="502" width="3" height="9" fill="#c0c0c0" />
<rect x="259" y="500" width="3" height="11" fill="#c0c0c0" />
<rect x="263" y="499" width="3" height="12" fill="#c0c0c0" />
<rect x="267" y="499" width="3" height="12" fill="#c0c0c0" />
<rect x="271" y="498" width="3" height="13" fill="#c0c0c0" />
<rect x="275" y="498" width="3" height="13" fill="#c0c0c0" />
<rect x="279" y="499" width="3" height="12" fill="#c0c0c0" />
<rect x="283" y="501" width="3" height="10" fill="#c0c0c0" />
<rect x="287" y="504" width="3" height="7" fill="#c0c0c0" />
<rect x="291" y="506" width="3" height="5" fill="#c0c0c0" />
<rect x="295" y="508" width="3" height="3" fill="#c0c0c0" />
<rect x="299" y="508" width="3" height="3" fill="#c0c0c0" />
<rect x="303" y="510" width="3" height="1" fill="#c0c0c0" />
<rect x="307" y="511" width="3" height="1" fill="#c0c0c0" />
<rect x="311" y="511" width="3" height="2" fill="#c0c0c0" />
<rect x="315" y="511" width="3" height="2" fill="#c0c0c0" />
<rect x="319" y="511" width="3" height="1" fill="#c0c0c0" />
<rect x="323" y="510" width="3" height="1" fill="#c0c0c0" />
<rect x="327" y="508" width="3" height="3" fill="#c0c0c0" />
<rect x="331" y="507" width="3" height="4" fill="#c0c0c0" />
<rect x="335" y="511" width="3" height="3" fill="#c0c0c0" />
<rect x="339" y="511" width="3" height="12" fill="#c0c0c0" />
<rect x="343" y="511" width="3" height="19" fill="#c0c0c0" />
<rect x="347" y="511" width="3" height="28" fill="#c0c0c0" />
<rect x="351" y="511" width="3" height="34" fill="#c0c0c0" />
<rect x="355" y="511" width="3" height="39" fill="#c0c0c0" />
<rect x="359" y="511" width="3" height="47" fill="#c0c0c0" />
<rect x="363" y="511" width="3" height="55" fill="#c0c0c0" />
<rect x="367" y="511" width="3" height="61" fill="#c0c0c0" />
<rect x="371" y="511" width="3" height="64" fill="#c0c0c0" />
<rect x="375" y="511" width="3" height="65" fill="#c0c0c0" />
<rect x="379" y="511" width="3" height="65" fill="#c0c0c0" />
<rect x="383" y="511" width="3" height="59" fill="#c0c0c0" />
<rect x="387" y="511" width="3" height="56" fill="#c0c0c0" />
<rect x="391" y="511" width="3" height="54" fill="#c0c0c0" />
<rect x="395" y="511" width="3" height="52" fill="#c0c0c0" />
<rect x="399" y="511" width="3" height="49" fill="#c0c0c0" />
<rect x="403" y="511" width="3" height="45" fill="#c0c0c0" />
<rect x="407" y="511" width="3" height="37" fill="#c0c0c0" />
<rect x="411" y="511" width="3" height="31" fill="#c0c0c0" />
<rect x="415" y="511" width="3" height="23" fill="#c0c0c0" />
<rect x="419" y="511" width="3" height="19" fill="#c0c0c0" />
<rect x="423" y="511" width="3" height="15" fill="#c0c0c0" />
<rect x="427" y="511" width="3" height="15" fill="#c0c0c0" />
<rect x="431" y="511" width="3" height="14" fill="#c0c0c0" />
<rect x="435" y="511" width="3" height="12" fill="#c0c0c0" />
<rect x="439" y="511" width="3" height="10" fill="#c0c0c0" />
<rect x="443" y="511" width="3" height="8" fill="#c0c0c0" />
<rect x="447" y="511" width="3" height="7" fill="#c0c0c0" />
<rect x="451" y="511" width="3" height="6" fill="#c0c0c0" />
<rect x="455" y="511" width="3" height="3" fill="#c0c0c0" />
<rect x="459" y="507" width="3" height="4" fill="#c0c0c0" />
<rect x="463" y="502" width="3" height="9" fill="#c0c0c0" />
<rect x="467" y="498" width="3" height="13" fill="#c0c0c0" />
<rect x="471" y="494" width="3" height="17" fill="#c0c0c0" />
<rect x="475" y="493" width="3" height="18" fill="#c0c0c0" />
<rect x="479" y="494" width="3" height="17" fill="#c0c0c0" />
<rect x="483" y="496" width="3" height="15" fill="#c0c0c0" />
<rect x="487" y="498" width="3" height="13" fill="#c0c0c0" />
<rect x="491" y="498" width="3" height="13" fill="#c0c0c0" />
<rect x="495" y="499" width="3" height="12" fill="#c0c0c0" />
<rect x="499" y="502" width="3" height="9" fill="#c0c0c0" />
<rect x="503" y="504" width="3" height="7" fill="#c0c0c0" />
<rect x="507" y="507" width="3" height="4" fill="#c0c0c0" />
<rect x="511" y="509" width="3" height="2" fill="#c0c0c0" />
<rect x="515" y="511" width="3" height="3" fill="#c0c0c0" />
<rect x="519" y="511" width="3" height="7" fill="#c0c0c0" />
<rect x="523" y="511" width="3" height="10" fill="#c0c0c0" />
<rect x="527" y="511" width="3" height="12" fill="#c0c0c0" />
<rect x="531" y="511" width="3" height="15" fill="#c0c0c0" />
<rect x="535" y="511" width="3" height="15" fill="#c0c0c0" />
<rect x="539" y="511" width="3" height="13" fill="#c0c0c0" />
<rect x="543" y="511" width="3" height="12" fill="#c0c0c0" />
<rect x="547" y="511" width="3" height="12" fill="#c0c0c0" />
<rect x="551" y="511" width="3" height="10" fill="#c0c0c0" />
<rect x="555" y="511" width="3" height="6" fill="#c0c0c0" />
<rect x="559" y="511" width="3" height="2" fill="#c0c0c0" />
<rect x="563" y="508" width="3" height="3" fill="#c0c0c0" />
<rect x="567" y="505" width="3" height="6" fill="#c0c0c0" />
<rect x="571" y="505" width="3" height="6" fill="#c0c0c0" />
<rect x="575" y="504" width="3" height="7" fill="#c0c0c0" />
<rect x="579" y="504" width="3" height="7" fill="#c0c0c0" />
<rect x="583" y="503" width="3" height="8" fill="#c0c0c0" />
<rect x="587" y="503" width="3" height="8" fill="#c0c0c0" />
<rect x="591" y="503" width="3" height="8" fill="#c0c0c0" />
<rect x="595" y="504" width="3" height="7" fill="#c0c0c0" />
<rect x="599" y="505" width="3" height="6" fill="#c0c0c0" />
<rect x="603" y="506" width="3" height="5" fill="#c0c0c0" />
<rect x="607" y="506" width="3" height="5" fill="#c0c0c0" />
<rect x="611" y="507" width="3" height="4" fill="#c0c0c0" />
<rect x="615" y="508" width="3" height="3" fill="#c0c0c0" />
<rect x="619" y="509" width="3" height="2" fill="#c0c0c0" />
<rect x="623" y="509" width="3" height="2" fill="#c0c0c0" />
<rect x="627" y="508" width="3" height="3" fill="#c0c0c0" />
<rect x="631" y="508" width="3" height="3" fill="#c0c0c0" />
<rect x="635" y="506" width="3" height="5" fill="#c0c0c0" />
<rect x="639" y="505" width="3" height="6" fill="#c0c0c0" />
<rect x="643" y="503" width="3" height="8" fill="#c0c0c0" />
<rect x="647" y="503" width="3" height="8" fill="#c0c0c0" />
<rect x="651" y="505" width="3" height="6" fill="#c0c0c0" />
<rect x="655" y="507" width="3" height="4" fill="#c0c0c0" />
<rect x="659" y="507" width="3" height="4" fill="#c0c0c0" />
<rect x="663" y="508" width="3" height="3" fill="#c0c0c0" />
<rect x="667" y="508" width="3" height="3" fill="#c0c0c0" />
<rect x="671" y="507" width="3" height="4" fill="#c0c0c0" />
<rect x="675" y="505" width="3" height="6" fill="#c0c0c0" />
<rect x="679" y="502" width="3" height="9" fill="#c0c0c0" />
<rect x="683" y="499" width="3" height="12" fill="#c0c0c0" />
<rect x="687" y="500" width="3" height="11" fill="#c0c0c0" />
<rect x="691" y="501" width="3" height="10" fill="#c0c0c0" />
<rect x="695" y="501" width="3" height="10" fill="#c0c0c0" />
<rect x="699" y="502" width="3" height="9" fill="#c0c0c0" />
<rect x="703" y="504" width="3" height="7" fill="#c0c0c0" />
<rect x="707" y="506" width="3" height="5" fill="#c0c0c0" />
<rect x="711" y="507" width="3" height="4" fill="#c0c0c0" />
<rect x="715" y="509" width="3" height="2" fill="#c0c0c0" />
<rect x="719" y="511" width="3" height="1" fill="#c0c0c0" />
<rect x="723" y="511" width="3" height="2" fill="#c0c0c0" />
<rect x="727" y="511" width="3" height="5" fill="#c0c0c0" />
<rect x="731" y="511" width="3" height="5" fill="#c0c0c0" />
<rect x="735" y="511" width="3" height="4" fill="#c0c0c0" />
<rect x="739" y="511" width="3" height="3" fill="#c0c0c0" />
<rect x="743" y="511" width="3" height="3" fill="#c0c0c0" />
<rect x="747" y="511" width="3" height="6" fill="#c0c0c0" />
<rect x="751" y="511" width="3" height="8" fill="#c0c0c0" />
<rect x="755" y="511" width="3" height="11" fill="#c0c0c0" />
<rect x="759" y="511" width="3" height="13" fill="#c0c0c0" />
<rect x="763" y="511" width="3" height="16" fill="#c0c0c0" />
<rect x="767" y="511" width="3" height="18" fill="#c0c0c0" />
<rect x="771" y="511" width="3" height="17" fill="#c0c0c0" />
<rect x="775" y="511" width="3" height="14" fill="#c0c0c0" />
<rect x="779" y="511" width="3" height="13" fill="#c0c0c0" />
<rect x="783" y="511" width="3" height="13" fill="#c0c0c0" />
<rect x="787" y="511" width="3" height="13" fill="#c0c0c0" />
<rect x="791" y="511" width="3" height="14" fill="#c0c0c0" />
<rect x="795" y="511" width="3" height="15" fill="#c0c0c0" />
<rect x="799" y="511" width="3" height="16" fill="#c0c0c0" />
<rect x="803" y="511" width="3" height="17" fill="#c0c0c0" />
<rect x="807" y="511" width="3" height="18" fill="#c0c0c0" />
<rect x="811" y="511" width="3" height="17" fill="#c0c0c0" />
<rect x="815" y="511" width="3" height="16" fill="#c0c0c0" />
<rect x="819" y="511" width="3" height="16" fill="#c0c0c0" />
<rect x="823" y="511" width="3" height="14" fill="#c0c0c0" />
<rect x="827" y="511" width="3" height="12" fill="#c0c0c0" />
<rect x="831" y="511" width="3" height="10" fill="#c0c0c0" />
<rect x="835" y="511" width="3" height="7" fill="#c0c0c0" />
<rect x="839" y="511" width="3" height="4" fill="#c0c0c0" />
<rect x="843" y="511" width="3" height="2" fill="#c0c0c0" />
<rect x="847" y="511" width="3" height="1" fill="#c0c0c0" />
<rect x="851" y="511" width="3" height="1" fill="#c0c0c0" />
<rect x="855" y="511" width="3" height="1" fill="#c0c0c0" />
<rect x="859" y="511" width="3" height="2" fill="#c0c0c0" />
<rect x="863" y="511" width="3" height="3" fill="#c0c0c0" />
<rect x="867" y="511" width="3" height="3" fill="#c0c0c0" />
<rect x="871" y="511" width="3" height="4" fill="#c0c0c0" />
<rect x="875" y="511" width="3" height="6" fill="#c0c0c0" />
<rect x="879" y="511" width="3" height="11" fill="#c0c0c0" />
<rect x="883" y="511" width="3" height="14" fill="#c0c0c0" />
<rect x="887" y="511" width="3" height="16" fill="#c0c0c0" />
<rect x="891" y="511" width="3" height="18" fill="#c0c0c0" />
<rect x="895" y="511" width="3" height="20" fill="#c0c0c0" />
<rect x="899" y="511" width="3" height="22" fill="#c0c0c0" />
<rect x="903" y="511" width="3" height="20" fill="#c0c0c0" />
<rect x="907" y="511" width="3" height="16" fill="#c0c0c0" />
<rect x="911" y="511" width="3" height="16" fill="#c0c0c0" />
<rect x="915" y="511" width="3" height="16" fill="#c0c0c0" />
<rect x="919" y="511" width="3" height="16" fill="#c0c0c0" />
<rect x="923" y="511" width="3" height="16" fill="#c0c0c0" />
<rect x="927" y="511" width="3" height="18" fill="#c0c0c0" />
<rect x="931" y="511" width="3" height="21" fill="#c0c0c0" />
<rect x="935" y="511" width="3" height="24" fill="#c0c0c0" />
<rect x="939" y="511" width="3" height="28" fill="#c0c0c0" />
<rect x="943" y="511" width="3" height="33" fill="#c0c0c0" />
<rect x="947" y="511" width="3" height="36" fill="#c0c0c0" />
<rect x="951" y="511" width="3" height="43" fill="#c0c0c0" />
<rect x="955" y="511" width="3" height="47" fill="#c0c0c0" />
<rect x="959" y="511" width="3" height="50" fill="#c0c0c0" />
<rect x="963" y="511" width="3" height="52" fill="#c0c0c0" />
<rect x="967" y="511" width="3" height="52" fill="#c0c0c0" />
<rect x="971" y="511" width="3" height="52" fill="#c0c0c0" />
<rect x="975" y="511" width="3" height="51" fill="#c0c0c0" />
</g>
<polyline points="3.9,492.4 10.3,489.8 20.7,489.8 31.0,491.6 38.8,495.5 51.7,500.2 59.4,503.8 69.8,508.9 80.1,513.6 90.4,517.5 103.4,520.3 113.7,520.0 124.0,519.3 134.4,516.2 144.7,513.6 155.0,511.5 165.4,510.5 173.1,510.5 180.9,512.3 191.2,515.7 201.6,517.5 211.9,516.7 222.2,513.0 232.6,510.5 242.9,507.9 253.2,506.4 263.6,504.5 273.9,502.0 281.7,500.2 292.0,500.2 299.7,502.0 310.1,505.8 320.0,509.7 332.9,511.0 343.3,513.6 351.0,520.0 358.8,527.8 366.5,540.7 374.3,553.6 382.0,562.7 389.8,568.4 396.2,569.7 402.7,568.4 410.4,562.7 418.2,555.0 425.9,545.9 433.7,536.8 441.4,529.1 449.2,523.4 457.0,519.3 464.7,515.7 472.5,508.9 480.2,503.8 488.0,499.4 495.7,496.8 500.9,496.3 508.6,498.1 516.4,502.0 524.1,506.4 531.9,512.3 539.6,517.5 547.4,520.8 553.9,522.1 560.3,520.8 568.1,516.7 578.4,511.5 588.7,507.1 595.2,504.5 604.2,504.3 613.3,504.5 619.7,505.8 630.0,507.1 640.0,507.3 653.7,506.9 667.4,506.6 681.1,506.0 694.8,503.8 705.8,502.2 714.0,502.5 722.2,505.2 733.2,509.3 744.1,512.1 755.1,515.1 766.1,518.9 777.0,521.9 788.0,524.7 799.0,525.2 809.9,525.5 820.9,526.6 829.1,526.0 837.3,523.8 848.3,519.2 859.2,515.1 867.5,513.4 878.4,513.4 889.4,517.0 900.3,523.8 911.3,528.0 922.3,528.2 933.2,528.5 941.5,529.9 949.7,534.8 957.9,541.7 966.1,549.1 971.6,553.4 975.7,555.6" fill="none" stroke="#ff0000" stroke-width="1" stroke-linejoin="round" shape-rendering="crispEdges"/>
<g class="c">
<rect x="59" y="32" width="1" height="550" fill="#000" />
<rect x="4" y="411" width="1225" height="1" fill="#000" />
<rect x="59" y="411" width="1" height="1" fill="#fff" />
</g>
<g class="c">
<rect x="1230" y="56" width="2" height="1" fill="#000" />
<rect x="1230" y="89" width="2" height="1" fill="#000" />
<rect x="1230" y="122" width="2" height="1" fill="#000" />
<rect x="1230" y="155" width="2" height="1" fill="#000" />
<rect x="1230" y="188" width="2" height="1" fill="#000" />
<rect x="1230" y="221" width="2" height="1" fill="#000" />
<rect x="1230" y="254" width="2" height="1" fill="#000" />
<rect x="1230" y="287" width="2" height="1" fill="#000" />
<rect x="1230" y="320" width="2" height="1" fill="#000" />
<rect x="1230" y="353" width="2" height="1" fill="#000" />
<rect x="1230" y="511" width="2" height="1" fill="#000" />
<rect x="1230" y="386" width="1" height="1" fill="#000" />
<rect x="1230" y="419" width="2" height="1" fill="#000" />
</g>
<text x="1234.7" y="60" font-size="10" fill="#000" stroke="#000" stroke-width="0.12" textLength="33.1" lengthAdjust="spacingAndGlyphs" >6.96600</text>
<text x="1234.7" y="93" font-size="10" fill="#000" stroke="#000" stroke-width="0.12" textLength="33.1" lengthAdjust="spacingAndGlyphs" >6.94850</text>
<text x="1234.7" y="126" font-size="10" fill="#000" stroke="#000" stroke-width="0.12" textLength="33.1" lengthAdjust="spacingAndGlyphs" >6.93150</text>
<text x="1234.7" y="159" font-size="10" fill="#000" stroke="#000" stroke-width="0.12" textLength="33.1" lengthAdjust="spacingAndGlyphs" >6.91400</text>
<text x="1234.7" y="192" font-size="10" fill="#000" stroke="#000" stroke-width="0.12" textLength="33.1" lengthAdjust="spacingAndGlyphs" >6.89700</text>
<text x="1234.7" y="225" font-size="10" fill="#000" stroke="#000" stroke-width="0.12" textLength="33.1" lengthAdjust="spacingAndGlyphs" >6.87950</text>
<text x="1234.7" y="258" font-size="10" fill="#000" stroke="#000" stroke-width="0.12" textLength="33.1" lengthAdjust="spacingAndGlyphs" >6.86200</text>
<text x="1234.7" y="291" font-size="10" fill="#000" stroke="#000" stroke-width="0.12" textLength="33.1" lengthAdjust="spacingAndGlyphs" >6.84500</text>
<text x="1234.7" y="324" font-size="10" fill="#000" stroke="#000" stroke-width="0.12" textLength="33.1" lengthAdjust="spacingAndGlyphs" >6.82750</text>
<text x="1234.7" y="357" font-size="10" fill="#000" stroke="#000" stroke-width="0.12" textLength="33.1" lengthAdjust="spacingAndGlyphs" >6.81050</text>
<g class="c">
<rect x="1231" y="383" width="41" height="11" fill="#000" />
<rect x="1231" y="406" width="41" height="11" fill="#000" />
</g>
<text x="1235.2" y="422.6" font-size="10" fill="#000" stroke="#000" stroke-width="0.12" textLength="32.6" lengthAdjust="spacingAndGlyphs" clip-path="url(#cp776)">6.77600</text>
<text x="1234.7" y="391.7" font-size="10" fill="#fff" stroke="#fff" stroke-width="0.12" textLength="33.1" lengthAdjust="spacingAndGlyphs" >6.79189</text>
<text x="1234.7" y="414.7" font-size="10" fill="#fff" stroke="#fff" stroke-width="0.12" textLength="33.1" lengthAdjust="spacingAndGlyphs" >6.77974</text>
<text x="1233" y="435" font-size="10" fill="#000" stroke="#000" stroke-width="0.12" textLength="14.4" lengthAdjust="spacingAndGlyphs" >100</text>
<text x="1233" y="444.6" font-size="10" fill="#000" stroke="#000" stroke-width="0.12" textLength="9.5" lengthAdjust="spacingAndGlyphs" >70</text>
<text x="1233" y="464.4" font-size="10" fill="#000" stroke="#000" stroke-width="0.12" textLength="9.5" lengthAdjust="spacingAndGlyphs" >30</text>
<text x="1233" y="474" font-size="10" fill="#000" stroke="#000" stroke-width="0.12" >0</text>
<text x="1233.5" y="490" font-size="10" fill="#000" stroke="#000" stroke-width="0.12" textLength="27" lengthAdjust="spacingAndGlyphs" >0.0119</text>
<text x="1233.5" y="514.7" font-size="10" fill="#000" stroke="#000" stroke-width="0.12" textLength="17.4" lengthAdjust="spacingAndGlyphs" >0.00</text>
<text x="1233" y="578" font-size="10" fill="#000" stroke="#000" stroke-width="0.12" textLength="41.5" lengthAdjust="spacingAndGlyphs" >-0.027754</text>
<g class="c">
<rect x="4" y="582" width="1" height="4" fill="#000" />
<rect x="68" y="582" width="1" height="4" fill="#000" />
<rect x="132" y="582" width="1" height="4" fill="#000" />
<rect x="196" y="582" width="1" height="4" fill="#000" />
<rect x="260" y="582" width="1" height="4" fill="#000" />
<rect x="324" y="582" width="1" height="4" fill="#000" />
<rect x="388" y="582" width="1" height="4" fill="#000" />
<rect x="452" y="582" width="1" height="4" fill="#000" />
<rect x="516" y="582" width="1" height="4" fill="#000" />
<rect x="580" y="582" width="1" height="4" fill="#000" />
<rect x="644" y="582" width="1" height="4" fill="#000" />
<rect x="708" y="582" width="1" height="4" fill="#000" />
<rect x="772" y="582" width="1" height="4" fill="#000" />
<rect x="836" y="582" width="1" height="4" fill="#000" />
<rect x="900" y="582" width="1" height="4" fill="#000" />
<rect x="964" y="582" width="1" height="4" fill="#000" />
<rect x="59" y="582" width="1" height="4" fill="#000" />
</g>
<text x="3.6" y="593.6" font-size="10" fill="#000" stroke="#000" stroke-width="0.12" textLength="56" lengthAdjust="spacingAndGlyphs" >13 Nov 04:00</text>
<text x="67.6" y="593.6" font-size="10" fill="#000" stroke="#000" stroke-width="0.12" textLength="56" lengthAdjust="spacingAndGlyphs" >15 Nov 20:00</text>
<text x="131.6" y="593.6" font-size="10" fill="#000" stroke="#000" stroke-width="0.12" textLength="56" lengthAdjust="spacingAndGlyphs" >20 Nov 12:00</text>
<text x="195.6" y="593.6" font-size="10" fill="#000" stroke="#000" stroke-width="0.12" textLength="56" lengthAdjust="spacingAndGlyphs" >23 Nov 04:00</text>
<text x="259.6" y="593.6" font-size="10" fill="#000" stroke="#000" stroke-width="0.12" textLength="56" lengthAdjust="spacingAndGlyphs" >28 Nov 00:00</text>
<text x="323.6" y="593.6" font-size="10" fill="#000" stroke="#000" stroke-width="0.12" textLength="56" lengthAdjust="spacingAndGlyphs" >30 Nov 16:00</text>
<text x="387.6" y="593.6" font-size="10" fill="#000" stroke="#000" stroke-width="0.12" textLength="48.6" lengthAdjust="spacingAndGlyphs" >5 Dec 12:00</text>
<text x="451.6" y="593.6" font-size="10" fill="#000" stroke="#000" stroke-width="0.12" textLength="54" lengthAdjust="spacingAndGlyphs" >10 Dec 04:00</text>
<text x="515.6" y="593.6" font-size="10" fill="#000" stroke="#000" stroke-width="0.12" textLength="54" lengthAdjust="spacingAndGlyphs" >12 Dec 20:00</text>
<text x="579.6" y="593.6" font-size="10" fill="#000" stroke="#000" stroke-width="0.12" textLength="54" lengthAdjust="spacingAndGlyphs" >17 Dec 16:00</text>
<text x="643.6" y="593.6" font-size="10" fill="#000" stroke="#000" stroke-width="0.12" textLength="54" lengthAdjust="spacingAndGlyphs" >20 Dec 08:00</text>
<text x="707.6" y="593.6" font-size="10" fill="#000" stroke="#000" stroke-width="0.12" textLength="54" lengthAdjust="spacingAndGlyphs" >25 Dec 04:00</text>
<text x="771.6" y="593.6" font-size="10" fill="#000" stroke="#000" stroke-width="0.12" textLength="54" lengthAdjust="spacingAndGlyphs" >28 Dec 16:00</text>
<text x="835.6" y="593.6" font-size="10" fill="#000" stroke="#000" stroke-width="0.12" textLength="47.8" lengthAdjust="spacingAndGlyphs" >3 Jan 08:00</text>
<text x="899.6" y="593.6" font-size="10" fill="#000" stroke="#000" stroke-width="0.12" textLength="47.8" lengthAdjust="spacingAndGlyphs" >8 Jan 04:00</text>
<text x="963.6" y="593.6" font-size="10" fill="#000" stroke="#000" stroke-width="0.12" textLength="52.4" lengthAdjust="spacingAndGlyphs" >10 Jan 20:00</text>
<g class="c">
<rect x="19" y="585" width="80" height="11" fill="#000" />
</g>
<text x="23.4" y="593.6" font-size="10" fill="#fff" stroke="#fff" stroke-width="0.12" textLength="71.4" lengthAdjust="spacingAndGlyphs" >2018.11.15 12:00</text>
<path d="M7 42.5 L14 42.5 L10.5 38 Z" fill="#000"/>
<text x="19.3" y="42.5" font-size="10" fill="#000" stroke="#000" stroke-width="0.12" textLength="55.5" lengthAdjust="spacingAndGlyphs" >USDCNH,H4</text>
<text x="81" y="42.5" font-size="10" fill="#000" stroke="#000" stroke-width="0.12" textLength="140.8" lengthAdjust="spacingAndGlyphs" >6.78871 6.79225 6.78741 6.79189</text>
<text x="8.3" y="436.7" font-size="10" fill="#000" stroke="#000" stroke-width="0.12" textLength="67.6" lengthAdjust="spacingAndGlyphs" >RSI(14) 29.5962</text>
<text x="8.6" y="491.9" font-size="10" fill="#000" stroke="#000" stroke-width="0.12" textLength="153.7" lengthAdjust="spacingAndGlyphs" >MACD(12,26,9) -0.019986 -0.018129</text>
<defs>
<linearGradient id="gb" x1="0" y1="0" x2="0" y2="1"><stop offset="0" stop-color="#f85050"/><stop offset="1" stop-color="#dc3030"/></linearGradient>
<linearGradient id="gp" x1="0" y1="0" x2="0" y2="1"><stop offset="0" stop-color="#dc3030"/><stop offset="0.85" stop-color="#b40808"/><stop offset="1" stop-color="#a80000"/></linearGradient>
<linearGradient id="gs" x1="0" y1="0" x2="0" y2="1"><stop offset="0" stop-color="#f2f2f2"/><stop offset="0.5" stop-color="#e2e2e2"/><stop offset="0.5" stop-color="#d4d4d4"/><stop offset="1" stop-color="#cacaca"/></linearGradient>
</defs>
<g class="c">
<rect x="5" y="49" width="222" height="68" fill="#ffffff" />
<rect x="7" y="51" width="51" height="25" fill="url(#gb)" />
<rect x="174" y="51" width="52" height="25" fill="url(#gb)" />
<rect x="7" y="51" width="51" height="1" fill="#d02828" />
<rect x="174" y="51" width="52" height="1" fill="#d02828" />
<rect x="57" y="51" width="1" height="24" fill="#c82020" />
<rect x="174" y="51" width="1" height="24" fill="#c82020" />
<rect x="7" y="51" width="1" height="64" fill="#b81818" />
<rect x="225" y="51" width="1" height="24" fill="#c82020" />
<rect x="7" y="75" width="109" height="40" fill="url(#gp)" />
<rect x="118" y="75" width="108" height="40" fill="url(#gp)" />
<rect x="7" y="114" width="109" height="1" fill="#9c0000" />
<rect x="118" y="114" width="108" height="1" fill="#9c0000" />
<rect x="7" y="75" width="1" height="40" fill="#ac1010" />
<rect x="225" y="75" width="1" height="40" fill="#ac1010" />
<rect x="11" y="74" width="44" height="1" fill="#8c0808" />
<rect x="11" y="75" width="44" height="1" fill="#f08888" />
<rect x="178" y="74" width="44" height="1" fill="#8c0808" />
<rect x="178" y="75" width="44" height="1" fill="#f08888" />
<rect x="61" y="51" width="111" height="22" fill="#a4a6ae" />
<rect x="62" y="52" width="109" height="20" fill="#ffffff" />
<rect x="62" y="52" width="20" height="20" fill="url(#gs)" />
<rect x="82" y="52" width="1" height="20" fill="#b4b6be" />
<rect x="151" y="52" width="20" height="20" fill="url(#gs)" />
<rect x="150" y="52" width="1" height="20" fill="#b4b6be" />
</g>
<path d="M68.8 60 L74.2 60 L71.5 63.2 Z" fill="#4a5ccc"/>
<path d="M157.8 63 L163.2 63 L160.5 59.8 Z" fill="#4a5ccc"/>
<text x="146.5" y="65.6" font-size="12" fill="#000018" text-anchor="end" >0.01</text>
<text x="19.3" y="67" font-size="12" fill="#fff" textLength="25.7" lengthAdjust="spacingAndGlyphs" >SELL</text>
<text x="187.7" y="67" font-size="12" fill="#fff" textLength="23.1" lengthAdjust="spacingAndGlyphs" >BUY</text>
<text x="27" y="106" font-size="11" fill="#fff" textLength="23.4" lengthAdjust="spacingAndGlyphs" font-weight="bold" >6.79</text>
<text x="55.9" y="106.2" font-size="35" fill="#fff" textLength="32.8" lengthAdjust="spacingAndGlyphs" >18</text>
<text x="93.8" y="90.2" font-size="12" fill="#fff" font-weight="bold" >9</text>
<text x="137" y="106" font-size="11" fill="#fff" textLength="23.4" lengthAdjust="spacingAndGlyphs" font-weight="bold" >6.79</text>
<text x="165" y="106.2" font-size="35" fill="#fff" textLength="34.2" lengthAdjust="spacingAndGlyphs" >42</text>
<text x="205.3" y="90.2" font-size="12" fill="#fff" font-weight="bold" >9</text>
</svg>
</body></html>
